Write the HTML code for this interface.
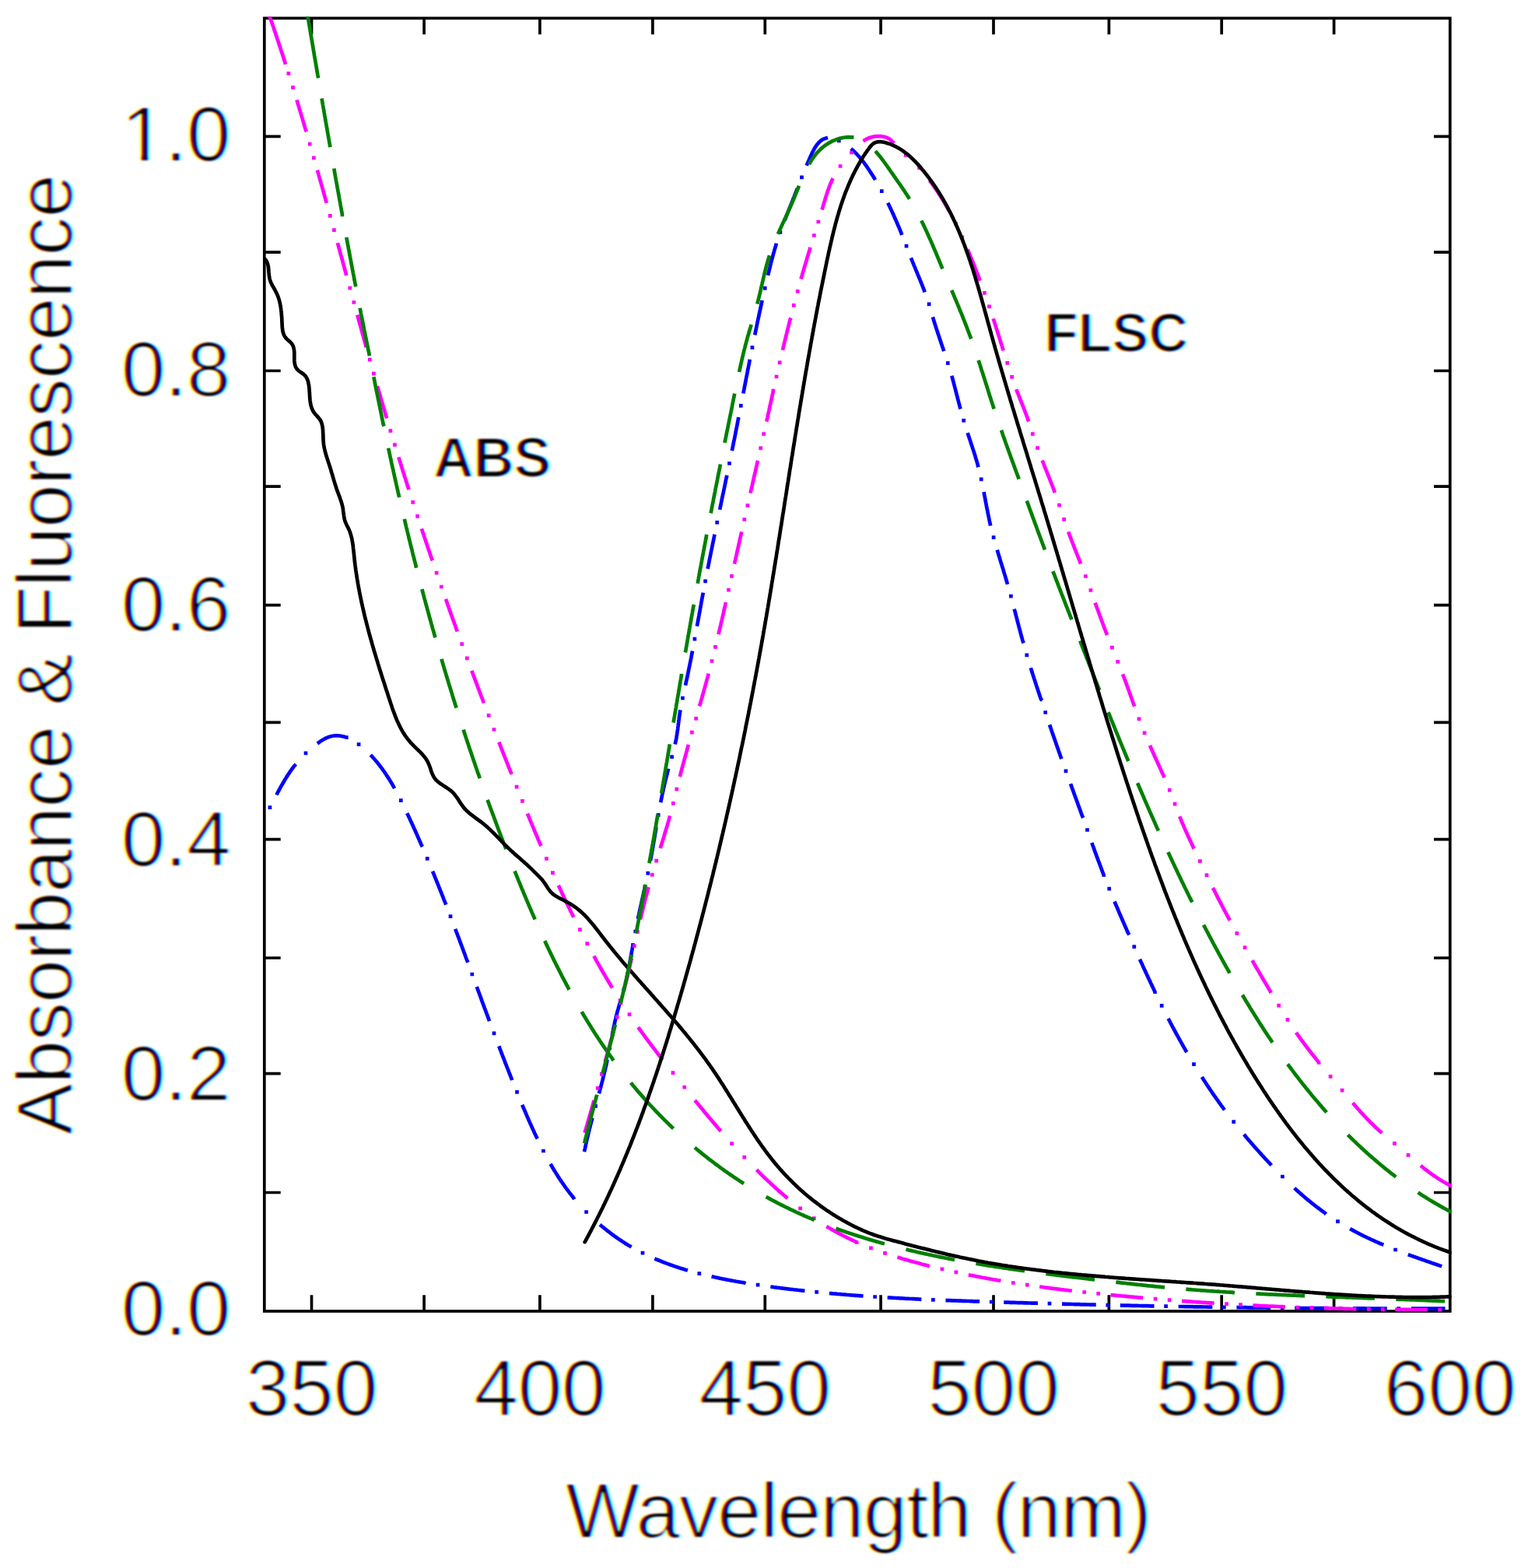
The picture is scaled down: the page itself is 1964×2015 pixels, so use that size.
<!DOCTYPE html>
<html><head><meta charset="utf-8"><title>Absorbance &amp; Fluorescence</title>
<style>
html,body{margin:0;padding:0;background:#fff;overflow:hidden;}
svg{display:block;}
text{font-family:"Liberation Sans",Arial,Helvetica,sans-serif;fill:#000;}
</style></head>
<body>
<svg width="1964" height="2015" viewBox="0 0 1964 2015">
<rect width="1964" height="2015" fill="#fff"/>
<defs><clipPath id="pa"><rect x="337.95" y="21.55" width="1527.70" height="1665.30"/></clipPath></defs>
<g fill="none" stroke="#000" stroke-width="3.7">
<rect x="339.8" y="23.4" width="1524.0" height="1661.6"/>
<path d="M400.5 1685V1664.2M400.5 23.4V44.2M545.1 1685V1664.2M545.1 23.4V44.2M693.9 1685V1664.2M693.9 23.4V44.2M838.9 1685V1664.2M838.9 23.4V44.2M983.3 1685V1664.2M983.3 23.4V44.2M1132.1 1685V1664.2M1132.1 23.4V44.2M1277 1685V1664.2M1277 23.4V44.2M1425.4 1685V1664.2M1425.4 23.4V44.2M1570.2 1685V1664.2M1570.2 23.4V44.2M1714.6 1685V1664.2M1714.6 23.4V44.2M339.8 175.4H360.7M1863.8 175.4H1843M339.8 324.1H360.7M1863.8 324.1H1843M339.8 476.5H360.7M1863.8 476.5H1843M339.8 625.2H360.7M1863.8 625.2H1843M339.8 777.6H360.7M1863.8 777.6H1843M339.8 928.3H360.7M1863.8 928.3H1843M339.8 1078.6H360.7M1863.8 1078.6H1843M339.8 1231H360.7M1863.8 1231H1843M339.8 1379.7H360.7M1863.8 1379.7H1843M339.8 1532.5H360.7M1863.8 1532.5H1843" stroke-linecap="butt"/>
</g>
<g clip-path="url(#pa)" fill="none" stroke-width="4.7">
<path d="M356.5 1019.4L357.4 1017.7L358.4 1015.9L359.3 1014.2L360.3 1012.4L361.2 1010.7L362.2 1008.9L363.2 1007.2L364.2 1005.5L365.2 1003.7L366.2 1002L367.3 1000.3L368.3 998.6L369.4 996.9L370.5 995.2L371.6 993.6L372.7 991.9L373.8 990.3L375 988.6L376.2 987L377.4 985.4L378.6 983.9L378.7 983.8M409.8 954.1L411.2 953.1L412.9 952L414.6 951L416.3 950L418.1 949L419.9 948.2L421.8 947.4L423.6 946.7L425.6 946.2L427.5 945.8L429.5 945.5L431.5 945.4L433.5 945.4L435.5 945.5L437.5 945.7L439.5 946.1L441.4 946.5L443.3 947.1L445.2 947.7L445.3 947.7M477.9 971.9L478.9 973L480.3 974.5L481.6 976L482.9 977.5L484.2 979L485.5 980.6L486.7 982.1L487.9 983.7L489.2 985.3L490.4 986.9L491.5 988.5L492.7 990.1L493.9 991.7L495 993.4L496.1 995L497.2 996.7L498.3 998.4L499.4 1000.1L500.5 1001.8L501.5 1003.5L502.6 1005.2L503.6 1006.9L504.6 1008.6L505.6 1010.4L506 1011.1M524.2 1047.1L525 1048.7L525.8 1050.5L526.7 1052.3L527.5 1054.2L528.4 1056L529.2 1057.8L530 1059.6L530.9 1061.4L531.7 1063.3L532.5 1065.1L533.3 1066.9L534.2 1068.7L535 1070.5L535.8 1072.4L536.6 1074.2L537.4 1076L538.2 1077.9L539 1079.7L539.8 1081.5L540.6 1083.4L541.4 1085.2L541.8 1086M556.9 1121.7L557.6 1123.4L558.3 1125.3L559.1 1127.1L559.8 1129L560.6 1130.8L561.3 1132.7L562.1 1134.5L562.8 1136.4L563.6 1138.2L564.3 1140.1L565.1 1142L565.8 1143.8L566.5 1145.7L567.3 1147.5L568 1149.4L568.8 1151.3L569.5 1153.1L570.2 1155L570.9 1156.8L571.7 1158.7L572.4 1160.4M586 1196L586.5 1197.4L587.3 1199.3L588 1201.2L588.7 1203.1L589.4 1204.9L590.1 1206.8L590.8 1208.7L591.5 1210.6L592.2 1212.4L592.9 1214.3L593.6 1216.2L594.3 1218L595 1219.9L595.7 1221.8L596.4 1223.7L597.1 1225.5L597.8 1227.4L598.4 1229.3L599.1 1231.2L599.8 1233L600.5 1234.7M613.6 1270.3L614.2 1272L614.9 1273.9L615.6 1275.7L616.3 1277.6L617 1279.5L617.7 1281.4L618.4 1283.2L619 1285.1L619.7 1287L620.4 1288.9L621.1 1290.7L621.8 1292.6L622.5 1294.5L623.2 1296.4L623.9 1298.2L624.6 1300.1L625.3 1302L626 1303.9L626.7 1305.7L627.4 1307.6L628.1 1309.5L628.3 1310.1M642.1 1346.6L642.7 1348.3L643.5 1350.2L644.2 1352.1L644.9 1353.9L645.6 1355.8L646.3 1357.7L647.1 1359.5L647.8 1361.4L648.5 1363.2L649.2 1365.1L649.9 1367L650.7 1368.8L651.4 1370.7L652.1 1372.6L652.9 1374.4L653.6 1376.3L654.3 1378.1L655.1 1380L655.8 1381.9L656.5 1383.7L657.3 1385.6L657.4 1385.9M672.1 1421.9L672.8 1423.5L673.6 1425.4L674.4 1427.2L675.2 1429L676 1430.9L676.7 1432.7L677.5 1434.6L678.3 1436.4L679.1 1438.2L679.9 1440.1L680.7 1441.9L681.5 1443.7L682.4 1445.5L683.2 1447.4L684 1449.2L684.8 1451L685.7 1452.8L686.5 1454.7L687.3 1456.5L688.2 1458.3L689 1460.1L689.7 1461.4M708.7 1497.8L709.7 1499.5L710.7 1501.2L711.7 1502.9L712.8 1504.6L713.8 1506.3L714.9 1508L716 1509.7L717 1511.4L718.1 1513.1L719.2 1514.8L720.3 1516.4L721.4 1518.1L722.6 1519.7L723.7 1521.4L724.9 1523L726 1524.6L727.2 1526.3L728.4 1527.9L729.6 1529.5L730.8 1531.1L732 1532.7L733.2 1534.2L734.5 1535.8L735.7 1537.4L737 1538.9L737.1 1539.1M772.8 1575.2L774.3 1576.5L775.8 1577.7L777.4 1579L778.9 1580.2L780.5 1581.5L782.1 1582.7L783.7 1583.9L785.3 1585.1L786.9 1586.3L788.5 1587.5L790.1 1588.7L791.7 1589.8L793.4 1591L795 1592.1L796.7 1593.2L798.4 1594.3L800 1595.4L801.7 1596.5L803.4 1597.6L805.1 1598.6L806.8 1599.7L808.5 1600.7L809.6 1601.3M843.5 1618.3L845.2 1619L847 1619.7L848.9 1620.5L850.7 1621.2L852.6 1622L854.5 1622.7L856.3 1623.4L858.2 1624.1L860.1 1624.8L862 1625.5L863.9 1626.1L865.7 1626.8L867.6 1627.4L869.5 1628.1L871.4 1628.7L873.3 1629.3L875.2 1629.9L877.2 1630.5L879.1 1631.1L881 1631.7L881.7 1631.9M916.9 1640.9L918.8 1641.3L920.7 1641.7L922.7 1642.1L924.6 1642.6L926.6 1643L928.5 1643.4L930.5 1643.7L932.5 1644.1L934.4 1644.5L936.4 1644.9L938.4 1645.2L940.3 1645.6L942.3 1646L944.3 1646.3L946.2 1646.7L948.2 1647L950.2 1647.4L952.2 1647.7L954.1 1648L956.1 1648.3L956.4 1648.4M992.7 1653.8L994.7 1654.1L996.7 1654.3L998.6 1654.6L1000.6 1654.8L1002.6 1655.1L1004.6 1655.3L1006.6 1655.6L1008.6 1655.8L1010.5 1656.1L1012.5 1656.3L1014.5 1656.6L1016.5 1656.8L1018.5 1657L1020.5 1657.3L1022.5 1657.5L1024.4 1657.7L1026.4 1658L1028.4 1658.2L1030.4 1658.4L1032.1 1658.6M1068.2 1662.2L1070.2 1662.4L1072.2 1662.5L1074.2 1662.7L1076.2 1662.9L1078.2 1663L1080.2 1663.2L1082.2 1663.4L1084.2 1663.5L1086.2 1663.7L1088.2 1663.9L1090.1 1664L1092.1 1664.2L1094.1 1664.3L1096.1 1664.5L1098.1 1664.6L1100.1 1664.8L1102.1 1664.9L1104.1 1665.1L1106.1 1665.2L1107.2 1665.3M1143 1667.6L1145 1667.7L1147 1667.8L1149 1667.9L1151 1668L1153 1668.1L1155 1668.2L1157 1668.3L1159 1668.4L1161 1668.5L1163 1668.7L1165 1668.8L1167 1668.9L1169 1669L1171 1669L1173 1669.1L1175 1669.2L1177 1669.3L1179 1669.4L1181 1669.5L1182 1669.6M1217.8 1671.1L1219.4 1671.1L1221.4 1671.2L1223.4 1671.3L1225.4 1671.3L1227.4 1671.4L1229.4 1671.5L1231.4 1671.6L1233.4 1671.6L1235.4 1671.7L1237.4 1671.8L1239.4 1671.8L1241.4 1671.9L1243.4 1672L1245.4 1672L1247.4 1672.1L1249.4 1672.2L1251.4 1672.3L1253.4 1672.3L1255.4 1672.4L1256.8 1672.4M1292.6 1673.6L1294.4 1673.6L1296.4 1673.7L1298.4 1673.8L1300.4 1673.8L1302.4 1673.9L1304.4 1673.9L1306.4 1674L1308.4 1674.1L1310.4 1674.1L1312.4 1674.2L1314.4 1674.2L1316.4 1674.3L1318.4 1674.4L1320.4 1674.4L1322.4 1674.5L1324.4 1674.5L1326.4 1674.6L1328.4 1674.7L1330.4 1674.7L1331.6 1674.7M1367.4 1675.7L1369.4 1675.8L1371.4 1675.8L1373.4 1675.9L1375.4 1675.9L1377.4 1676L1379.4 1676L1381.4 1676.1L1383.4 1676.1L1385.4 1676.2L1387.4 1676.2L1389.4 1676.3L1391.4 1676.3L1393.4 1676.4L1395.4 1676.4L1397.4 1676.5L1399.4 1676.5L1401.4 1676.6L1403.4 1676.6L1405.4 1676.7L1406.4 1676.7M1442.2 1677.5L1443.8 1677.6L1445.8 1677.6L1447.8 1677.6L1449.8 1677.7L1451.8 1677.7L1453.8 1677.8L1455.8 1677.8L1457.8 1677.9L1459.8 1677.9L1461.8 1677.9L1463.8 1678L1465.8 1678L1467.8 1678.1L1469.8 1678.1L1471.8 1678.1L1473.8 1678.2L1475.8 1678.2L1477.8 1678.3L1479.8 1678.3L1481.2 1678.3M1517 1679L1518.8 1679L1520.8 1679L1522.8 1679.1L1524.8 1679.1L1526.8 1679.1L1528.8 1679.2L1530.8 1679.2L1532.8 1679.2L1534.8 1679.3L1536.8 1679.3L1538.8 1679.3L1540.8 1679.4L1542.8 1679.4L1544.8 1679.4L1546.8 1679.5L1548.8 1679.5L1550.8 1679.5L1552.8 1679.6L1554.8 1679.6L1556 1679.6M1591.8 1680.1L1593.8 1680.1L1595.8 1680.2L1597.8 1680.2L1599.8 1680.2L1601.8 1680.2L1603.8 1680.3L1605.8 1680.3L1607.8 1680.3L1609.8 1680.3L1611.8 1680.3L1613.8 1680.4L1615.8 1680.4L1617.8 1680.4L1619.8 1680.4L1621.8 1680.5L1623.8 1680.5L1625.8 1680.5L1627.8 1680.5L1629.8 1680.6L1630.8 1680.6M1666.6 1680.9L1668.3 1680.9L1670.3 1680.9L1672.3 1681L1674.3 1681L1676.3 1681L1678.3 1681L1680.3 1681L1682.3 1681L1684.3 1681.1L1686.3 1681.1L1688.3 1681.1L1690.3 1681.1L1692.3 1681.1L1694.3 1681.1L1696.3 1681.1L1698.3 1681.2L1700.3 1681.2L1702.3 1681.2L1704.3 1681.2L1705.6 1681.2M1741.4 1681.4L1743.3 1681.4L1745.3 1681.4L1747.3 1681.4L1749.3 1681.4L1751.3 1681.4L1753.3 1681.4L1755.3 1681.5L1757.3 1681.5L1759.3 1681.5L1761.3 1681.5L1763.3 1681.5L1765.3 1681.5L1767.3 1681.5L1769.3 1681.5L1771.3 1681.5L1773.3 1681.5L1775.3 1681.5L1777.3 1681.5L1779.3 1681.5L1780.4 1681.5M1816.2 1681.6L1817.8 1681.6L1819.8 1681.6L1821.8 1681.6L1823.8 1681.6L1825.8 1681.6L1827.8 1681.6L1829.8 1681.6L1831.8 1681.6L1833.8 1681.6L1835.8 1681.6L1837.8 1681.6L1839.8 1681.6L1841.8 1681.6L1843.8 1681.6L1845.8 1681.6L1847.8 1681.6L1849.8 1681.6L1851.8 1681.6L1853.8 1681.6L1855.2 1681.5M346.9 1037.6h0.01M393 967.9h0.01M461.1 956.6h0.01M515.3 1028.6h0.01M549.2 1103.4h0.01M579 1177.7h0.01M606.8 1252h0.01M635 1327.9h0.01M664.5 1403.4h0.01M698.4 1479h0.01M753.6 1557.5h0.01M826 1610.2h0.01M898.8 1636.6h0.01M974.1 1651.2h0.01M1049.7 1660.4h0.01M1124.6 1666.5h0.01M1199.4 1670.3h0.01M1274.2 1673h0.01M1349 1675.2h0.01M1423.8 1677.1h0.01M1498.6 1678.7h0.01M1573.4 1679.9h0.01M1648.2 1680.7h0.01M1723 1681.3h0.01M1797.8 1681.6h0.01" stroke="#0000ff" stroke-linecap="square" stroke-linejoin="round"/>
<path d="M352.9 39.2L353.5 41L354.1 42.9L354.7 44.8L355.4 46.7L356 48.6L356.6 50.5L357.3 52.4L357.9 54.3L358.5 56.2L359.1 58.1L359.8 60L360.4 61.9L361 63.8L361.6 65.7L362.3 67.6L362.9 69.5L363.5 71.4L364.1 73.3L364.7 75.2L365.1 76.2M382.1 130.6L382.6 132.4L383.2 134.4L383.8 136.3L384.4 138.2L384.9 140.1L385.5 142L386.1 143.9L386.7 145.8L387.2 147.8L387.8 149.7L388.4 151.6L389 153.5L389.5 155.4L390.1 157.3L390.7 159.3L391.2 161.2L391.8 163.1L392.4 165L392.9 166.9L393 167.1M408.5 220.9L409 222.7L409.6 224.6L410.1 226.5L410.6 228.4L411.2 230.4L411.7 232.3L412.3 234.2L412.8 236.1L413.4 238.1L413.9 240L414.4 241.9L415 243.8L415.5 245.8L416.1 247.7L416.6 249.6L417.1 251.5L417.7 253.5L418.2 255.4L418.7 257.3L419.1 258.7M434.5 314.3L435 316.1L435.5 318L436 320L436.6 321.9L437.1 323.8L437.6 325.8L438.1 327.7L438.7 329.6L439.2 331.6L439.7 333.5L440.3 335.4L440.8 337.3L441.3 339.3L441.8 341.2L442.4 343.1L442.9 345.1L443.4 347L444 348.9L444.5 350.8L444.7 351.8M459.9 406.9L460.4 408.7L460.9 410.6L461.4 412.6L462 414.5L462.5 416.4L463 418.3L463.6 420.3L464.1 422.2L464.6 424.1L465.2 426L465.7 428L466.2 429.9L466.8 431.8L467.3 433.8L467.8 435.7L468.4 437.6L468.9 439.5L469.5 441.5L470 443.4L470.1 443.9M485.6 498.3L486.1 500.1L486.7 502.1L487.2 504L487.8 505.9L488.4 507.8L488.9 509.7L489.5 511.7L490 513.6L490.6 515.5L491.2 517.4L491.7 519.3L492.3 521.3L492.9 523.2L493.4 525.1L494 527L494.6 528.9L495.1 530.9L495.7 532.8L496.3 534.7L496.5 535.4M513 589.8L513.6 591.6L514.2 593.5L514.8 595.4L515.4 597.3L516 599.2L516.6 601.2L517.2 603.1L517.8 605L518.4 606.9L519 608.8L519.6 610.7L520.2 612.6L520.8 614.5L521.4 616.4L522 618.3L522.6 620.2L523.2 622.1L523.8 624L524.4 625.9L524.8 627M542.6 681.6L543.2 683.4L543.9 685.3L544.5 687.2L545.1 689.1L545.8 691L546.4 692.9L547 694.8L547.7 696.7L548.3 698.6L549 700.5L549.6 702.4L550.2 704.3L550.9 706.2L551.5 708.1L552.2 710L552.8 711.9L553.4 713.8L554.1 715.7L554.7 717.5L555 718.2M573.7 772L574.3 773.7L575 775.6L575.6 777.5L576.3 779.4L577 781.3L577.6 783.2L578.3 785.1L579 786.9L579.6 788.8L580.3 790.7L581 792.6L581.7 794.5L582.3 796.4L583 798.2L583.7 800.1L584.4 802L585.1 803.9L585.7 805.8L586.4 807.6L587 809.3M607.1 864.1L607.8 865.8L608.5 867.7L609.2 869.6L609.9 871.5L610.6 873.3L611.3 875.2L612 877.1L612.7 879L613.4 880.8L614.1 882.7L614.8 884.6L615.5 886.4L616.2 888.3L616.9 890.2L617.6 892.1L618.3 893.9L619.1 895.8L619.8 897.7L620.5 899.5L621.1 901.2M642.1 955.7L642.8 957.4L643.5 959.2L644.2 961.1L644.9 963L645.7 964.8L646.4 966.7L647.1 968.6L647.9 970.4L648.6 972.3L649.3 974.1L650.1 976L650.8 977.9L651.5 979.7L652.3 981.6L653 983.4L653.7 985.3L654.5 987.2L655.2 989L655.9 990.9L656.7 992.7L656.8 992.9M678.8 1047.7L679.5 1049.3L680.3 1051.2L681 1053L681.8 1054.9L682.5 1056.7L683.3 1058.6L684.1 1060.4L684.9 1062.3L685.6 1064.1L686.4 1065.9L687.2 1067.8L687.9 1069.6L688.7 1071.5L689.5 1073.3L690.3 1075.2L691 1077L691.8 1078.8L692.6 1080.7L693.4 1082.5L694.2 1084.4L694.5 1085M718.8 1139.9L719.5 1141.5L720.4 1143.3L721.2 1145.1L722 1146.9L722.9 1148.8L723.7 1150.6L724.6 1152.4L725.4 1154.2L726.3 1156L727.2 1157.8L728 1159.6L728.9 1161.4L729.8 1163.2L730.6 1165L731.5 1166.8L732.4 1168.6L733.2 1170.4L734.1 1172.2L735 1174L735.9 1175.8L736.3 1176.6M764.5 1230.6L765.3 1232.1L766.2 1233.8L767.2 1235.6L768.2 1237.3L769.2 1239.1L770.2 1240.8L771.1 1242.5L772.1 1244.3L773.1 1246L774.1 1247.7L775.1 1249.5L776.1 1251.2L777.1 1252.9L778.2 1254.7L779.2 1256.4L780.2 1258.1L781.2 1259.8L782.2 1261.5L783.3 1263.3L784.3 1265L785.3 1266.7L785.9 1267.6M821.6 1322L822.7 1323.5L823.9 1325.1L825.1 1326.7L826.2 1328.3L827.4 1329.9L828.6 1331.5L829.8 1333.2L831 1334.8L832.2 1336.4L833.4 1338L834.6 1339.6L835.8 1341.2L837 1342.8L838.2 1344.4L839.4 1346L840.6 1347.5L841.8 1349.1L843 1350.7L844.3 1352.3L845.5 1353.9L846.7 1355.5L847.9 1357L849.1 1358.6L850.2 1360M894.7 1415.8L895.9 1417.3L897.2 1418.8L898.5 1420.4L899.7 1421.9L901 1423.4L902.3 1425L903.5 1426.5L904.8 1428.1L906.1 1429.6L907.4 1431.1L908.7 1432.7L909.9 1434.2L911.2 1435.7L912.5 1437.3L913.8 1438.8L915.1 1440.3L916.4 1441.9L917.7 1443.4L919 1444.9L920.3 1446.4L921.6 1447.9L922.9 1449.5L924.2 1451L925 1451.9M974.1 1504.9L975.1 1506L976.6 1507.4L978 1508.8L979.4 1510.2L980.9 1511.6L982.3 1513L983.7 1514.4L985.2 1515.7L986.6 1517.1L988.1 1518.5L989.6 1519.8L991 1521.2L992.5 1522.6L994 1523.9L995.4 1525.3L996.9 1526.6L998.4 1527.9L999.9 1529.3L1001.4 1530.6L1002.9 1531.9L1004.4 1533.2L1005.9 1534.5L1007.4 1535.8L1009 1537.1L1010.5 1538.4L1010.6 1538.5M1064.3 1577.2L1065.7 1578L1067.4 1579L1069.2 1580L1070.9 1581L1072.6 1582L1074.4 1582.9L1076.1 1583.9L1077.9 1584.9L1079.7 1585.8L1081.4 1586.7L1083.2 1587.6L1085 1588.5L1086.8 1589.4L1088.6 1590.3L1090.4 1591.2L1092.2 1592.1L1094 1592.9L1095.8 1593.8L1097.6 1594.6L1099.4 1595.4L1101.3 1596.2L1101.3 1596.3M1155.7 1616.2L1157.6 1616.8L1159.5 1617.4L1161.4 1617.9L1163.4 1618.5L1165.3 1619.1L1167.2 1619.6L1169.1 1620.2L1171 1620.7L1173 1621.2L1174.9 1621.8L1176.8 1622.3L1178.8 1622.8L1180.7 1623.3L1182.6 1623.8L1184.6 1624.4L1186.5 1624.9L1188.4 1625.4L1190.4 1625.9L1192.3 1626.3L1192.7 1626.5M1247.1 1638.7L1248.9 1639L1250.9 1639.4L1252.8 1639.8L1254.8 1640.2L1256.7 1640.6L1258.7 1640.9L1260.7 1641.3L1262.6 1641.7L1264.6 1642L1266.6 1642.4L1268.5 1642.8L1270.5 1643.1L1272.5 1643.5L1274.4 1643.8L1276.4 1644.2L1278.4 1644.5L1280.4 1644.9L1282.3 1645.2L1284.1 1645.5M1338.5 1653.8L1340.2 1654L1342.1 1654.3L1344.1 1654.6L1346.1 1654.8L1348.1 1655.1L1350.1 1655.3L1352.1 1655.6L1354 1655.8L1356 1656.1L1358 1656.3L1360 1656.6L1362 1656.8L1364 1657.1L1365.9 1657.3L1367.9 1657.6L1369.9 1657.8L1371.9 1658L1373.9 1658.3L1375.5 1658.5M1429.9 1664.3L1431.6 1664.4L1433.6 1664.6L1435.5 1664.8L1437.5 1665L1439.5 1665.2L1441.5 1665.4L1443.5 1665.5L1445.5 1665.7L1447.5 1665.9L1449.5 1666.1L1451.5 1666.3L1453.5 1666.5L1455.5 1666.6L1457.5 1666.8L1459.4 1667L1461.4 1667.2L1463.4 1667.4L1465.4 1667.5L1466.9 1667.7M1521.3 1672L1523.2 1672.1L1525.2 1672.3L1527.2 1672.4L1529.2 1672.6L1531.2 1672.7L1533.2 1672.9L1535.2 1673L1537.2 1673.1L1539.2 1673.3L1541.2 1673.4L1543.2 1673.5L1545.2 1673.7L1547.2 1673.8L1549.2 1673.9L1551.2 1674.1L1553.2 1674.2L1555.2 1674.3L1557.2 1674.4L1558.3 1674.5M1612.7 1677.6L1614.6 1677.7L1616.6 1677.8L1618.6 1677.9L1620.6 1678L1622.6 1678.1L1624.6 1678.2L1626.6 1678.3L1628.6 1678.4L1630.5 1678.5L1632.5 1678.5L1634.5 1678.6L1636.5 1678.7L1638.5 1678.8L1640.5 1678.9L1642.5 1679L1644.5 1679.1L1646.5 1679.1L1648.5 1679.2L1649.7 1679.3M1704.1 1681.2L1706 1681.2L1708 1681.3L1710 1681.3L1712 1681.4L1714 1681.4L1716 1681.5L1718 1681.5L1720 1681.6L1722 1681.6L1724 1681.7L1726 1681.7L1728 1681.8L1730 1681.8L1732 1681.9L1734 1681.9L1736 1682L1738 1682L1740 1682L1741.1 1682.1M1795.5 1682.8L1797.5 1682.9L1799.5 1682.9L1801.5 1682.9L1803.5 1682.9L1805.5 1682.9L1807.5 1682.9L1809.5 1682.9L1811.5 1682.9L1813.5 1683L1815.5 1683L1817.5 1683L1819.5 1683L1821.5 1683L1823.5 1683L1825.5 1683L1827.5 1683L1829.5 1683L1831.5 1683L1832.5 1683M340.8 4.1L341.4 6L342.1 7.9L342.8 9.8L343.4 11.7L344.1 13.5L344.7 15.4L345.4 17.3L346 19.2L346.7 21.1L347.3 23L348 24.9L348.6 26.8L349.3 28.7L349.9 30.6L350.6 32.5L351.2 34.3L351.9 36.2L352.5 38.1L353.1 40L353.8 41.9L354.4 43.8L355.1 45.7L355.7 47.6L356.3 49.5L356.9 51.4L357.6 53.3L358.2 55.2L358.8 57.1L359.5 59L360.1 60.9L360.7 62.8L361.3 64.7L361.9 66.6L362.6 68.5L363.2 70.4L363.8 72.3L364.4 74.2L365 76.1L365.6 78L366.3 79.9L366.4 80.4M346.7 21h0.01M370.9 94.4h0.01M376.5 112.4h0.01M398.2 185.1h0.01M403.4 202.8h0.01M424.3 277.3h0.01M429.4 295.7h0.01M449.8 370.2h0.01M454.8 388.5h0.01M475.3 462.1h0.01M480.4 480.1h0.01M501.9 553.6h0.01M507.4 571.6h0.01M530.7 645.3h0.01M536.6 663.4h0.01M561.1 736.2h0.01M567.3 754h0.01M593.7 827.7h0.01M600.3 845.8h0.01M628.1 919.4h0.01M635 937.5h0.01M664.1 1011.2h0.01M671.4 1029.4h0.01M702.4 1103.4h0.01M710.4 1121.6h0.01M745.4 1194.7h0.01M754.7 1212.6h0.01M797.2 1285.7h0.01M809 1303.7h0.01M865 1378.7h0.01M879.7 1397.2h0.01M940.6 1469.6h0.01M956.8 1487.2h0.01M1028.6 1552.9h0.01M1046.3 1565.7h0.01M1119.5 1603.8h0.01M1137.5 1610.4h0.01M1210.9 1630.9h0.01M1228.9 1634.9h0.01M1302.3 1648.5h0.01M1320.3 1651.2h0.01M1393.7 1660.5h0.01M1411.7 1662.4h0.01M1485.1 1669.2h0.01M1503.1 1670.6h0.01M1576.5 1675.6h0.01M1594.5 1676.7h0.01M1667.9 1680h0.01M1685.9 1680.6h0.01M1759.3 1682.4h0.01M1777.3 1682.7h0.01M1850.7 1683h0.01" stroke="#ff00ff" stroke-linecap="square" stroke-linejoin="round"/>
<path d="M392 0L392.3 1.5L392.6 3.5L393 5.4L393.2 6.7M398.6 38.7L398.9 40.4L399.2 42.4L399.5 44.4L399.9 46.4L400.2 48.3L400.5 50.3L400.9 52.3L401.2 54.2L401.5 56.2L401.9 58.2L402.2 60.2L402.5 62.1L402.9 64.1L403.2 66.1L403.5 68L403.9 70L404.2 72L404.5 74L404.9 75.9L405.2 77.9L405.6 79.9L405.9 81.8L406.2 83.8L406.6 85.8L406.9 87.8L407.2 89.7L407.6 91.7L407.9 93.7L408.2 95.6L408.4 96.7M413.9 128.7L414.3 130.6L414.6 132.6L414.9 134.6L415.3 136.6L415.6 138.5L416 140.5L416.3 142.5L416.6 144.4L417 146.4L417.3 148.4L417.7 150.3L418 152.3L418.3 154.3L418.7 156.3L419 158.2L419.4 160.2L419.7 162.2L420.1 164.1L420.4 166.1L420.7 168.1L421.1 170L421.4 172L421.8 174L422.1 176L422.5 177.9L422.8 179.9L423.2 181.9L423.5 183.8L423.8 185.8L424 186.8M429.7 218.8L429.9 220.3L430.3 222.2L430.6 224.2L431 226.2L431.3 228.2L431.7 230.1L432 232.1L432.4 234.1L432.7 236L433.1 238L433.4 240L433.8 241.9L434.2 243.9L434.5 245.9L434.9 247.8L435.2 249.8L435.6 251.8L435.9 253.7L436.3 255.7L436.6 257.7L437 259.6L437.4 261.6L437.7 263.6L438.1 265.6L438.4 267.5L438.8 269.5L439.1 271.5L439.5 273.4L439.9 275.4L439.9 275.9M445.7 307.4L446.1 309.3L446.5 311.3L446.8 313.3L447.2 315.2L447.6 317.2L447.9 319.2L448.3 321.1L448.7 323.1L449 325.1L449.4 327L449.8 329L450.1 330.9L450.5 332.9L450.9 334.9L451.2 336.8L451.6 338.8L452 340.8L452.4 342.7L452.7 344.7L453.1 346.7L453.5 348.6L453.8 350.6L454.2 352.6L454.6 354.5L455 356.5L455.3 358.5L455.7 360.4L456.1 362.4L456.5 364.4L456.8 366M463.1 398.2L463.4 399.7L463.7 401.6L464.1 403.6L464.5 405.6L464.9 407.5L465.3 409.5L465.7 411.5L466.1 413.4L466.5 415.4L466.9 417.3L467.3 419.3L467.7 421.3L468 423.2L468.4 425.2L468.8 427.1L469.2 429.1L469.6 431.1L470 433L470.4 435L470.8 437L471.2 438.9L471.6 440.9L472 442.8L472.4 444.8L472.8 446.8L473.2 448.7L473.6 450.7L474 452.6L474.4 454.6L474.5 455.1M480.8 486.6L481.2 488.4L481.6 490.4L481.9 492.3L482.3 494.3L482.7 496.3L483.1 498.2L483.5 500.2L483.9 502.1L484.3 504.1L484.7 506.1L485.1 508L485.5 510L485.9 511.9L486.3 513.9L486.7 515.9L487.1 517.8L487.5 519.8L487.9 521.7L488.3 523.7L488.7 525.7L489.1 527.6L489.5 529.6L489.9 531.5L490.3 533.5L490.7 535.5L491.1 537.4L491.5 539.4L491.9 541.3L492.3 543.3L492.7 545.3L492.8 545.6M499.6 578.1L500.1 580L500.5 581.9L500.9 583.9L501.3 585.9L501.7 587.8L502.2 589.8L502.6 591.7L503 593.7L503.4 595.6L503.9 597.6L504.3 599.5L504.7 601.5L505.2 603.4L505.6 605.4L506 607.3L506.5 609.3L506.9 611.2L507.3 613.2L507.8 615.2L508.2 617.1L508.6 619.1L509.1 621L509.5 623L510 624.9L510.4 626.9L510.8 628.8L511.3 630.8L511.7 632.7L512.2 634.7L512.6 636.6L512.7 636.9M520.3 669.3L520.7 671.2L521.2 673.1L521.7 675.1L522.1 677L522.6 679L523.1 680.9L523.5 682.8L524 684.8L524.5 686.7L525 688.7L525.4 690.6L525.9 692.6L526.4 694.5L526.9 696.4L527.3 698.4L527.8 700.3L528.3 702.3L528.8 704.2L529.3 706.1L529.8 708.1L530.2 710L530.7 712L531.2 713.9L531.7 715.8L532.2 717.8L532.7 719.7L533.2 721.7L533.7 723.6L534.2 725.5L534.6 727.4M543 759.5L543.5 761.3L544 763.3L544.5 765.2L545 767.1L545.5 769.1L546.1 771L546.6 772.9L547.1 774.9L547.6 776.8L548.2 778.7L548.7 780.7L549.2 782.6L549.7 784.5L550.3 786.4L550.8 788.4L551.3 790.3L551.8 792.2L552.4 794.2L552.9 796.1L553.4 798L554 799.9L554.5 801.9L555.1 803.8L555.6 805.7L556.1 807.6L556.7 809.6L557.2 811.5L557.8 813.4L558.3 815.3L558.8 817.2M568.1 849.1L568.6 850.9L569.2 852.8L569.7 854.7L570.3 856.6L570.9 858.6L571.4 860.5L572 862.4L572.6 864.3L573.2 866.2L573.7 868.1L574.3 870L574.9 872L575.5 873.9L576.1 875.8L576.6 877.7L577.2 879.6L577.8 881.5L578.4 883.4L579 885.4L579.6 887.3L580.2 889.2L580.8 891.1L581.3 893L581.9 894.9L582.5 896.8L583.1 898.7L583.7 900.6L584.3 902.5L584.9 904.5L585.5 906.4L585.9 907.6M596.3 939.8L596.8 941.6L597.5 943.5L598.1 945.4L598.7 947.3L599.4 949.2L600 951.1L600.6 953L601.2 954.9L601.9 956.8L602.5 958.7L603.1 960.6L603.8 962.5L604.4 964.4L605.1 966.3L605.7 968.1L606.3 970L607 971.9L607.6 973.8L608.3 975.7L608.9 977.6L609.6 979.5L610.2 981.4L610.9 983.3L611.5 985.2L612.2 987.1L612.8 989L613.5 990.8L614.1 992.7L614.8 994.6L615.5 996.5L616 998M627.4 1030.1L628.1 1031.8L628.7 1033.7L629.4 1035.6L630.1 1037.5L630.8 1039.3L631.5 1041.2L632.2 1043.1L632.9 1045L633.6 1046.9L634.3 1048.7L635 1050.6L635.7 1052.5L636.4 1054.4L637.1 1056.2L637.8 1058.1L638.5 1060L639.2 1061.8L639.9 1063.7L640.6 1065.6L641.3 1067.5L642 1069.3L642.7 1071.2L643.4 1073.1L644.1 1074.9L644.9 1076.8L645.6 1078.7L646.3 1080.5L647 1082.4L647.7 1084.3L648.5 1086.1L649.2 1088L649.6 1089.1M662.5 1121.6L663.2 1123.3L663.9 1125.2L664.7 1127L665.4 1128.9L666.2 1130.7L666.9 1132.6L667.7 1134.4L668.5 1136.3L669.2 1138.1L670 1140L670.7 1141.8L671.5 1143.7L672.3 1145.5L673 1147.4L673.8 1149.2L674.6 1151.1L675.4 1152.9L676.1 1154.8L676.9 1156.6L677.7 1158.4L678.5 1160.3L679.3 1162.1L680 1164L680.8 1165.8L681.6 1167.6L682.4 1169.5L683.2 1171.3L684 1173.1L684.8 1175L685.6 1176.8L686.4 1178.6L686.7 1179.4M701.2 1211.2L701.9 1212.8L702.7 1214.6L703.6 1216.4L704.5 1218.2L705.3 1220L706.2 1221.8L707 1223.6L707.9 1225.4L708.8 1227.2L709.7 1229L710.5 1230.8L711.4 1232.6L712.3 1234.4L713.2 1236.2L714.1 1238L715 1239.8L715.9 1241.6L716.8 1243.4L717.7 1245.2L718.6 1246.9L719.5 1248.7L720.4 1250.5L721.3 1252.3L722.2 1254.1L723.1 1255.8L724.1 1257.6L725 1259.4L725.9 1261.1L726.9 1262.9L727.8 1264.7L728.7 1266.4L729.7 1268.2L730.5 1269.8M748.8 1302.1L749.6 1303.5L750.6 1305.2L751.7 1306.9L752.7 1308.6L753.7 1310.3L754.8 1312L755.8 1313.7L756.9 1315.4L757.9 1317.1L759 1318.8L760 1320.5L761.1 1322.2L762.2 1323.9L763.3 1325.6L764.3 1327.3L765.4 1329L766.5 1330.6L767.6 1332.3L768.7 1334L769.8 1335.6L770.9 1337.3L772 1339L773.1 1340.6L774.3 1342.3L775.4 1343.9L776.5 1345.6L777.6 1347.2L778.8 1348.9L779.9 1350.5L781.1 1352.2L782.2 1353.8L783.4 1355.4L784.5 1357.1L785.7 1358.7L786.9 1360.3L787.3 1360.9M812.3 1393.2L813.5 1394.7L814.8 1396.2L816.1 1397.8L817.3 1399.3L818.6 1400.8L819.9 1402.4L821.2 1403.9L822.6 1405.4L823.9 1406.9L825.2 1408.4L826.5 1409.9L827.8 1411.4L829.2 1412.9L830.5 1414.4L831.8 1415.9L833.2 1417.3L834.5 1418.8L835.9 1420.3L837.3 1421.7L838.6 1423.2L840 1424.7L841.4 1426.1L842.7 1427.6L844.1 1429L845.5 1430.4L846.9 1431.9L848.3 1433.3L849.7 1434.7L851.1 1436.2L852.5 1437.6L853.9 1439L855.4 1440.4L856.8 1441.8L858.2 1443.2L859.6 1444.6L861.1 1446L862.5 1447.4L863.9 1448.7M894.8 1476.2L896.1 1477.3L897.7 1478.6L899.2 1479.8L900.8 1481.1L902.3 1482.4L903.9 1483.6L905.4 1484.9L907 1486.1L908.6 1487.3L910.2 1488.6L911.7 1489.8L913.3 1491L914.9 1492.2L916.5 1493.4L918.1 1494.6L919.7 1495.8L921.3 1497L922.9 1498.2L924.5 1499.4L926.1 1500.6L927.8 1501.8L929.4 1502.9L931 1504.1L932.6 1505.3L934.3 1506.4L935.9 1507.6L937.6 1508.7L939.2 1509.8L940.9 1511L942.5 1512.1L944.2 1513.2L945.8 1514.3L947.5 1515.4L949.2 1516.5L950.8 1517.6L952.5 1518.7L954.1 1519.7M986.7 1539.1L988.2 1539.9L989.9 1540.9L991.7 1541.8L993.4 1542.8L995.2 1543.7L997 1544.6L998.8 1545.6L1000.5 1546.5L1002.3 1547.4L1004.1 1548.3L1005.9 1549.2L1007.7 1550.1L1009.5 1551L1011.3 1551.9L1013.1 1552.7L1014.9 1553.6L1016.7 1554.5L1018.5 1555.3L1020.3 1556.2L1022.1 1557L1023.9 1557.9L1025.7 1558.7L1027.5 1559.5L1029.4 1560.4L1031.2 1561.2L1033 1562L1034.9 1562.8L1036.7 1563.6L1038.5 1564.4L1040.4 1565.2L1042.2 1565.9L1044 1566.7L1044.7 1567M1076.7 1579.4L1078.5 1580.1L1080.4 1580.8L1082.3 1581.4L1084.2 1582.1L1086.1 1582.7L1088 1583.4L1089.9 1584L1091.8 1584.7L1093.7 1585.3L1095.6 1585.9L1097.5 1586.6L1099.4 1587.2L1101.3 1587.8L1103.2 1588.4L1105.1 1589L1107 1589.6L1108.9 1590.2L1110.8 1590.8L1112.7 1591.4L1114.6 1592L1116.5 1592.6L1118.5 1593.1L1120.4 1593.7L1122.3 1594.3L1124.2 1594.8L1126.1 1595.4L1128.1 1595.9L1130 1596.5L1131.9 1597L1133.8 1597.6L1134.7 1597.8M1166.7 1606.1L1168.2 1606.5L1170.1 1606.9L1172.1 1607.4L1174 1607.8L1176 1608.3L1177.9 1608.7L1179.9 1609.2L1181.8 1609.6L1183.8 1610.1L1185.7 1610.5L1187.7 1610.9L1189.6 1611.4L1191.6 1611.8L1193.6 1612.2L1195.5 1612.6L1197.5 1613L1199.4 1613.5L1201.4 1613.9L1203.3 1614.3L1205.3 1614.7L1207.3 1615.1L1209.2 1615.5L1211.2 1615.9L1213.1 1616.3L1215.1 1616.6L1217.1 1617L1219 1617.4L1221 1617.8L1223 1618.2L1224.7 1618.5M1256.7 1624.2L1258.4 1624.5L1260.4 1624.8L1262.4 1625.1L1264.3 1625.4L1266.3 1625.7L1268.3 1626.1L1270.2 1626.4L1272.2 1626.7L1274.2 1627L1276.2 1627.3L1278.2 1627.6L1280.1 1627.9L1282.1 1628.2L1284.1 1628.5L1286.1 1628.8L1288 1629.1L1290 1629.4L1292 1629.7L1294 1630L1296 1630.3L1297.9 1630.6L1299.9 1630.9L1301.9 1631.1L1303.9 1631.4L1305.9 1631.7L1307.8 1632L1309.8 1632.3L1311.8 1632.5L1313.8 1632.8L1314.7 1632.9M1346.7 1637.2L1348.5 1637.4L1350.5 1637.6L1352.4 1637.9L1354.4 1638.1L1356.4 1638.4L1358.4 1638.6L1360.4 1638.9L1362.4 1639.1L1364.4 1639.4L1366.3 1639.6L1368.3 1639.9L1370.3 1640.1L1372.3 1640.3L1374.3 1640.6L1376.3 1640.8L1378.2 1641.1L1380.2 1641.3L1382.2 1641.5L1384.2 1641.8L1386.2 1642L1388.2 1642.2L1390.2 1642.5L1392.2 1642.7L1394.1 1643L1396.1 1643.2L1398.1 1643.4L1400.1 1643.7L1402.1 1643.9L1404.1 1644.1L1404.7 1644.2M1436.7 1647.9L1438.3 1648.1L1440.3 1648.4L1442.3 1648.6L1444.3 1648.8L1446.3 1649L1448.3 1649.3L1450.3 1649.5L1452.2 1649.7L1454.2 1649.9L1456.2 1650.1L1458.2 1650.4L1460.2 1650.6L1462.2 1650.8L1464.2 1651L1466.2 1651.2L1468.2 1651.4L1470.1 1651.7L1472.1 1651.9L1474.1 1652.1L1476.1 1652.3L1478.1 1652.5L1480.1 1652.7L1482.1 1652.9L1484.1 1653.1L1486.1 1653.3L1488 1653.5L1490 1653.7L1492 1653.9L1494 1654.1L1494.7 1654.1M1526.7 1656.9L1528.4 1657.1L1530.4 1657.2L1532.4 1657.4L1534.4 1657.5L1536.4 1657.7L1538.4 1657.8L1540.4 1658L1542.3 1658.1L1544.3 1658.3L1546.3 1658.4L1548.3 1658.5L1550.3 1658.7L1552.3 1658.8L1554.3 1659L1556.3 1659.1L1558.3 1659.2L1560.3 1659.4L1562.3 1659.5L1564.3 1659.6L1566.3 1659.7L1568.3 1659.9L1570.3 1660L1572.3 1660.1L1574.3 1660.2L1576.3 1660.4L1578.3 1660.5L1580.3 1660.6L1582.3 1660.7L1584.3 1660.8L1584.7 1660.9M1616.7 1662.6L1618.7 1662.7L1620.7 1662.8L1622.7 1662.9L1624.7 1663L1626.7 1663.1L1628.7 1663.2L1630.7 1663.3L1632.7 1663.3L1634.7 1663.4L1636.7 1663.5L1638.7 1663.6L1640.7 1663.7L1642.7 1663.8L1644.7 1663.9L1646.7 1664L1648.7 1664.1L1650.7 1664.2L1652.7 1664.2L1654.7 1664.3L1656.7 1664.4L1658.7 1664.5L1660.7 1664.6L1662.7 1664.7L1664.7 1664.7L1666.7 1664.8L1668.7 1664.9L1670.7 1665L1672.7 1665.1L1674.7 1665.2L1674.7 1665.2M1706.7 1666.4L1708.6 1666.5L1710.6 1666.5L1712.6 1666.6L1714.6 1666.7L1716.6 1666.8L1718.6 1666.8L1720.6 1666.9L1722.6 1667L1724.6 1667L1726.6 1667.1L1728.6 1667.2L1730.6 1667.3L1732.6 1667.3L1734.6 1667.4L1736.6 1667.5L1738.6 1667.6L1740.6 1667.6L1742.6 1667.7L1744.6 1667.8L1746.6 1667.8L1748.6 1667.9L1750.6 1668L1752.6 1668.1L1754.6 1668.1L1756.6 1668.2L1758.6 1668.3L1760.6 1668.3L1762.6 1668.4L1764.6 1668.5L1764.7 1668.5M1796.7 1669.7L1798.6 1669.8L1800.6 1669.8L1802.6 1669.9L1804.6 1670L1806.6 1670.1L1808.6 1670.1L1810.6 1670.2L1812.6 1670.3L1814.6 1670.4L1816.6 1670.5L1818.6 1670.5L1820.6 1670.6L1822.6 1670.7L1824.5 1670.8L1826.5 1670.9L1828.5 1671L1830.5 1671L1832.5 1671.1L1834.5 1671.2L1836.5 1671.3L1838.5 1671.4L1840.5 1671.5L1842.5 1671.6L1844.5 1671.6L1846.5 1671.7L1848.5 1671.8L1850.5 1671.9L1852.5 1672L1854.5 1672.1L1854.7 1672.1M392 0L392.4 2L392.7 4L393 5.9L393.4 7.9L393.7 9.9L394 11.8L394.4 13.8L394.7 15.8L395 17.8L395.4 19.7L395.7 21.7L396 23.7L396.4 25.7L396.7 27.6L397 29.6L397.4 31.6L397.7 33.5L398 35.5L398.4 37.5L398.7 39.5L399 41.4L399.4 43.4L399.7 45.4L400 47.3L400.4 49.3L400.7 51.3L401 53.3L401.4 55.2L401.7 57.2L402 59.2L402.4 61.1L402.7 63.1L403 65.1L403.4 67.1L403.7 69L404 71L404.4 73L404.7 74.9L405.1 76.9L405.4 78.9L405.7 80.9L406.1 82.8L406.4 84.8L406.7 86.8L407.1 88.7L407.4 90.7L407.7 92.7L408.1 94.7L408.4 96.6L408.7 98.1" stroke="#008000" stroke-linecap="square" stroke-linejoin="round"/>
<path d="M340.6 332.9L341.9 334.5L342.9 336.2L343.7 338.1L344.3 340L344.7 341.9L345 343.9L345.2 345.9L345.4 347.9L345.5 349.9L345.7 351.9L345.9 353.9L346.1 355.8L346.5 357.8L347 359.7L347.6 361.6L348.4 363.5L349.3 365.3L350.2 367.1L351.2 368.8L352.2 370.5L353.2 372.3L354.1 374L355 375.8L355.9 377.6L356.7 379.4L357.4 381.3L358.1 383.2L358.7 385.1L359.2 387L359.7 389L360.1 390.9L360.5 392.9L360.8 394.9L361.1 396.8L361.3 398.8L361.6 400.8L361.7 402.8L361.9 404.8L362.1 406.8L362.2 408.8L362.3 410.8L362.4 412.8L362.5 414.8L362.6 416.8L362.7 418.8L362.8 420.8L363.1 422.8L363.3 424.7L363.7 426.7L364.3 428.6L365 430.5L365.9 432.3L367.1 433.9L368.4 435.4L369.9 436.8L371.4 438.1L372.9 439.4L374.3 440.8L375.5 442.4L376.5 444.2L377.2 446L377.7 448L378 449.9L378.2 451.9L378.3 453.9L378.3 455.9L378.3 457.9L378.3 459.9L378.3 461.9L378.4 463.9L378.6 465.9L378.9 467.9L379.4 469.8L380.1 471.7L381.1 473.4L382.4 475L383.8 476.4L385.4 477.6L387.1 478.7L388.7 479.8L390.3 481L391.8 482.4L393.1 483.9L394.1 485.6L395 487.4L395.7 489.3L396.2 491.2L396.6 493.2L397 495.1L397.2 497.1L397.4 499.1L397.6 501.1L397.7 503.1L397.9 505.1L398 507.1L398.1 509.1L398.2 511.1L398.4 513.1L398.6 515.1L398.9 517.1L399.2 519L399.6 521L400.2 522.9L400.8 524.8L401.6 526.6L402.5 528.4L403.6 530.1L404.8 531.7L406.1 533.2L407.5 534.6L408.8 536.1L410.1 537.7L411.3 539.3L412.3 541L413.1 542.8L413.7 544.7L414.2 546.7L414.6 548.7L414.8 550.6L415 552.6L415.1 554.6L415.2 556.6L415.3 558.6L415.4 560.6L415.4 562.6L415.5 564.6L415.6 566.6L415.8 568.6L416 570.6L416.3 572.6L416.6 574.5L417 576.5L417.5 578.5L417.9 580.4L418.5 582.3L419 584.2L419.6 586.2L420.2 588.1L420.8 590L421.4 591.9L422 593.8L422.7 595.7L423.3 597.6L423.9 599.5L424.5 601.4L425.1 603.3L425.7 605.2L426.2 607.1L426.8 609.1L427.4 611L427.9 612.9L428.5 614.8L429 616.7L429.6 618.6L430.2 620.6L430.8 622.5L431.4 624.4L432 626.3L432.6 628.2L433.3 630.1L434 632L434.7 633.8L435.4 635.7L436.1 637.6L436.8 639.4L437.4 641.3L438.1 643.2L438.7 645.1L439.3 647L439.8 649L440.3 650.9L440.7 652.9L441 654.9L441.2 656.8L441.5 658.8L441.8 660.8L442 662.8L442.3 664.8L442.7 666.7L443.2 668.7L443.8 670.6L444.6 672.4L445.4 674.2L446.3 676L447.2 677.8L448.1 679.6L448.9 681.4L449.7 683.3L450.3 685.2L450.9 687.1L451.4 689L451.9 690.9L452.4 692.9L452.7 694.9L453.1 696.8L453.4 698.8L453.7 700.8L453.9 702.8L454.1 704.8L454.4 706.8L454.6 708.7L454.8 710.7L455 712.7L455.2 714.7L455.4 716.7L455.6 718.7L455.8 720.7L456 722.7L456.3 724.6L456.5 726.6L456.8 728.6L457.1 730.6L457.3 732.6L457.6 734.6L457.9 736.5L458.2 738.5L458.5 740.5L458.8 742.5L459.1 744.4L459.5 746.4L459.8 748.4L460.1 750.4L460.5 752.3L460.8 754.3L461.2 756.3L461.6 758.2L461.9 760.2L462.3 762.2L462.7 764.1L463.1 766.1L463.5 768L463.9 770L464.3 772L464.7 773.9L465.2 775.9L465.6 777.8L466 779.8L466.5 781.7L466.9 783.7L467.4 785.6L467.8 787.6L468.3 789.5L468.7 791.5L469.2 793.4L469.7 795.3L470.2 797.3L470.7 799.2L471.2 801.2L471.7 803.1L472.2 805L472.7 807L473.2 808.9L473.7 810.8L474.2 812.8L474.7 814.7L475.3 816.6L475.8 818.6L476.3 820.5L476.9 822.4L477.4 824.3L478 826.3L478.5 828.2L479.1 830.1L479.6 832L480.2 833.9L480.7 835.9L481.3 837.8L481.9 839.7L482.5 841.6L483 843.5L483.6 845.4L484.2 847.4L484.8 849.3L485.4 851.2L485.9 853.1L486.5 855L487.1 856.9L487.7 858.8L488.3 860.7L488.9 862.6L489.5 864.5L490.1 866.5L490.7 868.4L491.3 870.3L491.9 872.2L492.5 874.1L493.2 876L493.8 877.9L494.4 879.8L495 881.7L495.6 883.6L496.2 885.5L496.8 887.4L497.5 889.3L498.1 891.2L498.7 893.1L499.3 895L499.9 896.9L500.6 898.8L501.2 900.7L501.8 902.6L502.4 904.5L503.1 906.4L503.7 908.3L504.3 910.2L505 912.1L505.7 914L506.4 915.9L507.1 917.7L507.8 919.6L508.5 921.5L509.3 923.3L510 925.1L510.8 927L511.7 928.8L512.5 930.6L513.4 932.4L514.3 934.2L515.2 936L516.2 937.7L517.1 939.5L518.2 941.2L519.2 942.9L520.3 944.6L521.4 946.2L522.6 947.8L523.8 949.4L525.1 951L526.3 952.5L527.6 954.1L529 955.5L530.4 957L531.8 958.4L533.2 959.8L534.6 961.2L536.1 962.6L537.5 964L538.9 965.4L540.4 966.8L541.7 968.2L543.1 969.7L544.4 971.2L545.7 972.8L546.9 974.4L548 976L549 977.7L550 979.5L550.8 981.3L551.6 983.1L552.3 985L553 986.9L553.6 988.8L554.2 990.7L554.9 992.6L555.6 994.4L556.5 996.3L557.4 998.1L558.4 999.8L559.6 1001.3L561 1002.8L562.4 1004.2L564 1005.5L565.6 1006.7L567.2 1007.8L568.9 1008.9L570.6 1010L572.2 1011.1L573.9 1012.1L575.6 1013.3L577.2 1014.4L578.8 1015.6L580.4 1016.9L581.8 1018.2L583.2 1019.7L584.5 1021.2L585.7 1022.8L586.9 1024.4L588.1 1026.1L589.2 1027.7L590.2 1029.4L591.3 1031.1L592.4 1032.8L593.6 1034.4L594.7 1036L595.9 1037.6L597.2 1039.1L598.6 1040.6L600 1042L601.5 1043.4L603 1044.7L604.5 1046L606.1 1047.2L607.7 1048.4L609.3 1049.6L610.9 1050.8L612.5 1052L614.1 1053.2L615.7 1054.3L617.3 1055.5L618.9 1056.7L620.5 1058L622.1 1059.2L623.6 1060.5L625.1 1061.8L626.6 1063.1L628.1 1064.5L629.6 1065.9L631 1067.2L632.4 1068.6L633.9 1070L635.3 1071.4L636.7 1072.9L638.1 1074.3L639.5 1075.7L640.9 1077.2L642.3 1078.6L643.7 1080L645 1081.5L646.4 1082.9L647.8 1084.3L649.2 1085.8L650.7 1087.2L652.1 1088.6L653.5 1090L655 1091.4L656.4 1092.7L657.9 1094.1L659.4 1095.4L660.9 1096.8L662.4 1098.1L663.9 1099.4L665.4 1100.7L666.9 1102L668.4 1103.3L669.9 1104.7L671.4 1106L672.9 1107.3L674.4 1108.6L675.9 1110L677.4 1111.3L678.8 1112.7L680.3 1114L681.7 1115.4L683.2 1116.8L684.6 1118.2L686 1119.6L687.4 1121L688.9 1122.4L690.3 1123.8L691.7 1125.2L693.1 1126.6L694.5 1128.1L695.9 1129.5L697.2 1131.1L698.4 1132.7L699.6 1134.3L700.7 1135.9L701.8 1137.6L702.9 1139.3L704 1141L705.1 1142.6L706.3 1144.2L707.5 1145.8L708.9 1147.2L710.3 1148.6L711.9 1149.9L713.6 1151L715.3 1152L717 1153L718.8 1154L720.5 1154.9L722.3 1155.8L724.1 1156.7L725.9 1157.6L727.7 1158.6L729.4 1159.5L731.2 1160.5L732.9 1161.5L734.6 1162.5L736.3 1163.6L737.9 1164.7L739.6 1165.9L741.2 1167.1L742.8 1168.3L744.3 1169.6L745.8 1170.9L747.3 1172.2L748.8 1173.5L750.2 1174.9L751.7 1176.3L753.1 1177.8L754.4 1179.2L755.8 1180.7L757.1 1182.2L758.4 1183.7L759.7 1185.2L761 1186.7L762.3 1188.3L763.5 1189.8L764.8 1191.4L766 1193L767.2 1194.6L768.5 1196.1L769.7 1197.7L770.9 1199.3L772.1 1200.9L773.3 1202.5L774.5 1204.1L775.8 1205.7L777 1207.3L778.2 1208.8L779.5 1210.4L780.7 1212L781.9 1213.5L783.2 1215.1L784.4 1216.7L785.7 1218.2L786.9 1219.8L788.2 1221.3L789.5 1222.9L790.7 1224.4L792 1226L793.3 1227.5L794.6 1229L795.9 1230.6L797.2 1232.1L798.4 1233.6L799.7 1235.2L801 1236.7L802.3 1238.2L803.6 1239.7L804.9 1241.2L806.2 1242.7L807.6 1244.3L808.9 1245.8L810.2 1247.3L811.5 1248.8L812.8 1250.3L814.1 1251.8L815.4 1253.3L816.8 1254.8L818.1 1256.3L819.4 1257.8L820.7 1259.3L822.1 1260.8L823.4 1262.3L824.7 1263.8L826.1 1265.3L827.4 1266.8L828.7 1268.3L830 1269.8L831.4 1271.2L832.7 1272.7L834 1274.2L835.4 1275.7L836.7 1277.2L838 1278.7L839.4 1280.2L840.7 1281.7L842 1283.2L843.3 1284.7L844.7 1286.2L846 1287.7L847.3 1289.2L848.7 1290.7L850 1292.2L851.3 1293.7L852.6 1295.2L854 1296.7L855.3 1298.2L856.6 1299.7L857.9 1301.2L859.2 1302.7L860.5 1304.2L861.9 1305.7L863.2 1307.2L864.5 1308.7L865.8 1310.2L867.1 1311.8L868.4 1313.3L869.7 1314.8L871 1316.3L872.3 1317.8L873.6 1319.4L874.9 1320.9L876.1 1322.4L877.4 1324L878.7 1325.5L880 1327L881.3 1328.6L882.5 1330.1L883.8 1331.7L885.1 1333.2L886.3 1334.8L887.6 1336.3L888.8 1337.9L890.1 1339.5L891.3 1341L892.6 1342.6L893.8 1344.2L895 1345.7L896.2 1347.3L897.5 1348.9L898.7 1350.5L899.9 1352.1L901.1 1353.7L902.3 1355.3L903.5 1356.9L904.7 1358.5L905.9 1360.1L907.1 1361.7L908.2 1363.3L909.4 1365L910.6 1366.6L911.7 1368.2L912.9 1369.8L914 1371.5L915.2 1373.1L916.3 1374.8L917.4 1376.4L918.5 1378.1L919.7 1379.7L920.8 1381.4L921.9 1383.1L923 1384.7L924.1 1386.4L925.2 1388.1L926.2 1389.8L927.3 1391.5L928.4 1393.1L929.5 1394.8L930.6 1396.5L931.6 1398.2L932.7 1399.9L933.8 1401.6L934.8 1403.3L935.9 1405L936.9 1406.7L938 1408.4L939.1 1410.1L940.1 1411.8L941.2 1413.5L942.2 1415.2L943.3 1416.9L944.3 1418.6L945.4 1420.3L946.4 1422L947.5 1423.7L948.5 1425.4L949.6 1427.1L950.6 1428.8L951.7 1430.5L952.7 1432.2L953.8 1433.9L954.8 1435.6L955.9 1437.3L957 1439L958 1440.7L959.1 1442.4L960.2 1444L961.3 1445.7L962.3 1447.4L963.4 1449.1L964.5 1450.8L965.6 1452.5L966.7 1454.1L967.8 1455.8L968.9 1457.5L970 1459.1L971.1 1460.8L972.2 1462.5L973.3 1464.1L974.5 1465.8L975.6 1467.4L976.7 1469L977.9 1470.7L979 1472.3L980.2 1473.9L981.4 1475.6L982.6 1477.2L983.7 1478.8L984.9 1480.4L986.1 1482L987.3 1483.6L988.5 1485.2L989.8 1486.8L991 1488.3L992.2 1489.9L993.5 1491.5L994.7 1493L996 1494.6L997.3 1496.1L998.6 1497.7L999.9 1499.2L1001.2 1500.7L1002.5 1502.2L1003.8 1503.7L1005.2 1505.2L1006.5 1506.7L1007.8 1508.1L1009.2 1509.6L1010.6 1511.1L1012 1512.5L1013.4 1514L1014.7 1515.4L1016.2 1516.8L1017.6 1518.2L1019 1519.6L1020.4 1521L1021.9 1522.4L1023.3 1523.8L1024.8 1525.1L1026.2 1526.5L1027.7 1527.9L1029.2 1529.2L1030.7 1530.5L1032.2 1531.8L1033.7 1533.2L1035.2 1534.5L1036.8 1535.8L1038.3 1537L1039.8 1538.3L1041.4 1539.6L1042.9 1540.8L1044.5 1542.1L1046.1 1543.3L1047.7 1544.5L1049.3 1545.7L1050.8 1546.9L1052.5 1548.1L1054.1 1549.3L1055.7 1550.5L1057.3 1551.7L1059 1552.8L1060.6 1553.9L1062.2 1555.1L1063.9 1556.2L1065.6 1557.3L1067.2 1558.4L1068.9 1559.5L1070.6 1560.6L1072.3 1561.6L1074 1562.7L1075.7 1563.7L1077.4 1564.8L1079.1 1565.8L1080.9 1566.8L1082.6 1567.8L1084.3 1568.8L1086.1 1569.8L1087.8 1570.7L1089.6 1571.7L1091.4 1572.6L1093.1 1573.5L1094.9 1574.5L1096.7 1575.4L1098.5 1576.3L1100.3 1577.1L1102.1 1578L1103.9 1578.9L1105.7 1579.7L1107.5 1580.5L1109.3 1581.3L1111.2 1582.1L1113 1582.9L1114.9 1583.7L1116.7 1584.4L1118.6 1585.1L1120.5 1585.8L1122.4 1586.5L1124.2 1587.2L1126.1 1587.8L1128 1588.4L1129.9 1589L1131.8 1589.6L1133.8 1590.2L1135.7 1590.8L1137.6 1591.4L1139.5 1591.9L1141.4 1592.5L1143.4 1593L1145.3 1593.5L1147.2 1594.1L1149.2 1594.6L1151.1 1595.1L1153 1595.6L1155 1596.1L1156.9 1596.6L1158.8 1597.1L1160.8 1597.6L1162.7 1598.2L1164.6 1598.7L1166.6 1599.2L1168.5 1599.7L1170.4 1600.2L1172.4 1600.7L1174.3 1601.2L1176.2 1601.7L1178.2 1602.2L1180.1 1602.7L1182.1 1603.2L1184 1603.7L1185.9 1604.1L1187.9 1604.6L1189.8 1605.1L1191.8 1605.6L1193.7 1606.1L1195.6 1606.6L1197.6 1607.1L1199.5 1607.5L1201.5 1608L1203.4 1608.5L1205.3 1608.9L1207.3 1609.4L1209.2 1609.9L1211.2 1610.3L1213.1 1610.8L1215.1 1611.3L1217 1611.7L1219 1612.2L1220.9 1612.6L1222.9 1613.1L1224.8 1613.5L1226.8 1613.9L1228.7 1614.4L1230.7 1614.8L1232.6 1615.2L1234.6 1615.7L1236.5 1616.1L1238.5 1616.5L1240.5 1616.9L1242.4 1617.3L1244.4 1617.7L1246.3 1618.1L1248.3 1618.5L1250.2 1618.9L1252.2 1619.3L1254.2 1619.7L1256.1 1620.1L1258.1 1620.5L1260.1 1620.8L1262 1621.2L1264 1621.6L1266 1622L1267.9 1622.3L1269.9 1622.7L1271.9 1623L1273.8 1623.4L1275.8 1623.7L1277.8 1624L1279.7 1624.4L1281.7 1624.7L1283.7 1625L1285.7 1625.4L1287.6 1625.7L1289.6 1626L1291.6 1626.3L1293.6 1626.6L1295.5 1627L1297.5 1627.3L1299.5 1627.6L1301.5 1627.9L1303.4 1628.1L1305.4 1628.4L1307.4 1628.7L1309.4 1629L1311.4 1629.3L1313.3 1629.6L1315.3 1629.9L1317.3 1630.1L1319.3 1630.4L1321.3 1630.7L1323.3 1630.9L1325.2 1631.2L1327.2 1631.4L1329.2 1631.7L1331.2 1631.9L1333.2 1632.2L1335.2 1632.4L1337.1 1632.7L1339.1 1632.9L1341.1 1633.2L1343.1 1633.4L1345.1 1633.6L1347.1 1633.9L1349.1 1634.1L1351 1634.3L1353 1634.5L1355 1634.8L1357 1635L1359 1635.2L1361 1635.4L1363 1635.6L1365 1635.8L1367 1636L1368.9 1636.2L1370.9 1636.4L1372.9 1636.6L1374.9 1636.8L1376.9 1637L1378.9 1637.2L1380.9 1637.4L1382.9 1637.6L1384.9 1637.8L1386.9 1638L1388.9 1638.2L1390.8 1638.4L1392.8 1638.5L1394.8 1638.7L1396.8 1638.9L1398.8 1639.1L1400.8 1639.2L1402.8 1639.4L1404.8 1639.6L1406.8 1639.7L1408.8 1639.9L1410.8 1640.1L1412.8 1640.2L1414.8 1640.4L1416.7 1640.6L1418.7 1640.7L1420.7 1640.9L1422.7 1641L1424.7 1641.2L1426.7 1641.4L1428.7 1641.5L1430.7 1641.7L1432.7 1641.8L1434.7 1642L1436.7 1642.1L1438.7 1642.3L1440.7 1642.4L1442.7 1642.6L1444.7 1642.7L1446.7 1642.9L1448.7 1643L1450.7 1643.1L1452.6 1643.3L1454.6 1643.4L1456.6 1643.6L1458.6 1643.7L1460.6 1643.8L1462.6 1644L1464.6 1644.1L1466.6 1644.3L1468.6 1644.4L1470.6 1644.5L1472.6 1644.7L1474.6 1644.8L1476.6 1644.9L1478.6 1645.1L1480.6 1645.2L1482.6 1645.3L1484.6 1645.5L1486.6 1645.6L1488.6 1645.8L1490.6 1645.9L1492.6 1646L1494.5 1646.2L1496.5 1646.3L1498.5 1646.4L1500.5 1646.6L1502.5 1646.7L1504.5 1646.8L1506.5 1647L1508.5 1647.1L1510.5 1647.2L1512.5 1647.4L1514.5 1647.5L1516.5 1647.6L1518.5 1647.8L1520.5 1647.9L1522.5 1648L1524.5 1648.2L1526.5 1648.3L1528.5 1648.4L1530.5 1648.6L1532.5 1648.7L1534.5 1648.9L1536.5 1649L1538.4 1649.1L1540.4 1649.3L1542.4 1649.4L1544.4 1649.6L1546.4 1649.7L1548.4 1649.9L1550.4 1650L1552.4 1650.2L1554.4 1650.3L1556.4 1650.4L1558.4 1650.6L1560.4 1650.7L1562.4 1650.9L1564.4 1651.1L1566.4 1651.2L1568.4 1651.4L1570.4 1651.5L1572.4 1651.7L1574.3 1651.8L1576.3 1652L1578.3 1652.1L1580.3 1652.3L1582.3 1652.5L1584.3 1652.6L1586.3 1652.8L1588.3 1653L1590.3 1653.1L1592.3 1653.3L1594.3 1653.4L1596.3 1653.6L1598.3 1653.8L1600.3 1653.9L1602.3 1654.1L1604.2 1654.3L1606.2 1654.4L1608.2 1654.6L1610.2 1654.8L1612.2 1654.9L1614.2 1655.1L1616.2 1655.3L1618.2 1655.5L1620.2 1655.6L1622.2 1655.8L1624.2 1656L1626.2 1656.1L1628.2 1656.3L1630.2 1656.5L1632.1 1656.6L1634.1 1656.8L1636.1 1657L1638.1 1657.1L1640.1 1657.3L1642.1 1657.5L1644.1 1657.6L1646.1 1657.8L1648.1 1658L1650.1 1658.1L1652.1 1658.3L1654.1 1658.5L1656.1 1658.6L1658.1 1658.8L1660 1659L1662 1659.1L1664 1659.3L1666 1659.5L1668 1659.6L1670 1659.8L1672 1659.9L1674 1660.1L1676 1660.3L1678 1660.4L1680 1660.6L1682 1660.7L1684 1660.9L1686 1661L1688 1661.2L1690 1661.3L1692 1661.5L1693.9 1661.6L1695.9 1661.8L1697.9 1661.9L1699.9 1662.1L1701.9 1662.2L1703.9 1662.4L1705.9 1662.5L1707.9 1662.6L1709.9 1662.8L1711.9 1662.9L1713.9 1663L1715.9 1663.2L1717.9 1663.3L1719.9 1663.4L1721.9 1663.6L1723.9 1663.7L1725.9 1663.8L1727.9 1663.9L1729.9 1664.1L1731.9 1664.2L1733.9 1664.3L1735.9 1664.4L1737.8 1664.5L1739.8 1664.6L1741.8 1664.8L1743.8 1664.9L1745.8 1665L1747.8 1665.1L1749.8 1665.2L1751.8 1665.3L1753.8 1665.4L1755.8 1665.5L1757.8 1665.6L1759.8 1665.6L1761.8 1665.7L1763.8 1665.8L1765.8 1665.9L1767.8 1666L1769.8 1666.1L1771.8 1666.1L1773.8 1666.2L1775.8 1666.3L1777.8 1666.4L1779.8 1666.4L1781.8 1666.5L1783.8 1666.5L1785.8 1666.6L1787.8 1666.6L1789.8 1666.7L1791.8 1666.7L1793.8 1666.8L1795.8 1666.8L1797.8 1666.9L1799.8 1666.9L1801.8 1666.9L1803.8 1667L1805.8 1667L1807.8 1667L1809.8 1667L1811.8 1667.1L1813.8 1667.1L1815.8 1667.1L1817.8 1667.1L1819.8 1667.1L1821.8 1667.1L1823.8 1667.1L1825.8 1667.1L1827.8 1667.1L1829.8 1667.1L1831.8 1667.1L1833.8 1667L1835.8 1667L1837.8 1667L1839.8 1667L1841.8 1666.9L1843.8 1666.9L1845.8 1666.8L1847.8 1666.8L1849.8 1666.8L1851.8 1666.7L1853.8 1666.6L1855.8 1666.6L1857.8 1666.5L1859.8 1666.4L1861.8 1666.4L1863.8 1666.3" stroke="#000000" stroke-linecap="round" stroke-linejoin="round"/>
<path d="M751.5 1477.8L751.9 1476.2L752.3 1474.2L752.7 1472.2L753.1 1470.3L753.5 1468.3L754 1466.4L754.4 1464.4L754.9 1462.5L755.4 1460.5L755.8 1458.6L756.3 1456.7L756.8 1454.7L757.2 1452.8L757.7 1450.8L758.2 1448.9L758.7 1447L759.2 1445L759.7 1443.1L760.2 1441.1L760.7 1439.2L760.8 1438.8M770.5 1403L770.9 1401.6L771.4 1399.6L771.9 1397.7L772.5 1395.8L773 1393.8L773.5 1391.9L774 1390L774.5 1388L775 1386.1L775.4 1384.1L775.9 1382.2L776.4 1380.3L776.9 1378.3L777.3 1376.4L777.8 1374.4L778.3 1372.5L778.7 1370.5L779.2 1368.6L779.6 1366.6L780 1364.7L780.1 1364M787.2 1328.2L787.5 1326.4L787.9 1324.4L788.3 1322.5L788.7 1320.5L789.2 1318.6L789.6 1316.6L790 1314.7L790.4 1312.7L790.9 1310.8L791.4 1308.8L791.8 1306.9L792.3 1304.9L792.8 1303L793.3 1301.1L793.8 1299.1L794.4 1297.2L794.9 1295.3L795.5 1293.4L796 1291.4L796.6 1289.5L796.7 1289.2M806.3 1253.4L806.6 1251.8L807 1249.9L807.4 1247.9L807.8 1246L808.2 1244L808.6 1242L809 1240.1L809.3 1238.1L809.7 1236.1L810 1234.2L810.4 1232.2L810.7 1230.2L811.1 1228.3L811.4 1226.3L811.8 1224.3L812.1 1222.4L812.5 1220.4L812.8 1218.4L813.2 1216.4L813.5 1214.5L813.5 1214.4M820.4 1178.6L820.7 1177.2L821.2 1175.2L821.6 1173.3L822 1171.3L822.4 1169.4L822.9 1167.4L823.3 1165.4L823.7 1163.5L824.2 1161.5L824.6 1159.6L825 1157.6L825.5 1155.7L825.9 1153.7L826.3 1151.8L826.8 1149.8L827.2 1147.9L827.6 1145.9L828.1 1144L828.5 1142L829 1140.1L829 1139.6M836.4 1103.8L836.7 1102.4L837.1 1100.4L837.4 1098.4L837.8 1096.5L838.1 1094.5L838.5 1092.5L838.8 1090.6L839.2 1088.6L839.5 1086.6L839.9 1084.6L840.2 1082.7L840.5 1080.7L840.9 1078.7L841.2 1076.8L841.5 1074.8L841.9 1072.8L842.2 1070.8L842.5 1068.9L842.9 1066.9L843.2 1064.9L843.2 1064.8M849.6 1029L849.9 1027.5L850.3 1025.6L850.7 1023.6L851.1 1021.6L851.5 1019.7L852 1017.7L852.4 1015.8L852.8 1013.8L853.2 1011.9L853.7 1009.9L854.1 1008L854.6 1006L855 1004.1L855.5 1002.1L856 1000.2L856.5 998.2L857 996.3L857.5 994.4L858 992.4L858.5 990.5L858.6 990M868.2 954.2L868.6 952.3L869 950.4L869.4 948.4L869.7 946.4L870 944.5L870.3 942.5L870.6 940.5L870.9 938.5L871.2 936.6L871.4 934.6L871.7 932.6L871.9 930.6L872.2 928.6L872.4 926.6L872.7 924.6L872.9 922.7L873.2 920.7L873.5 918.7L873.8 916.7L874.1 914.7L874.1 914.7M881.5 878.4L881.9 876.5L882.3 874.6L882.7 872.6L883.2 870.7L883.6 868.7L884 866.8L884.4 864.8L884.8 862.9L885.2 860.9L885.6 858.9L886 857L886.4 855L886.8 853.1L887.2 851.1L887.6 849.1L888 847.2L888.4 845.2L888.7 843.2L889.1 841.3L889.5 839.3L889.6 838.8M896.3 802.4L896.7 800.5L897.1 798.5L897.4 796.5L897.8 794.6L898.1 792.6L898.5 790.6L898.8 788.7L899.2 786.7L899.6 784.7L899.9 782.8L900.3 780.8L900.6 778.8L901 776.9L901.3 774.9L901.7 772.9L902.1 771L902.4 769L902.8 767L903.2 765.1L903.4 764M910.1 728.6L910.5 726.8L910.9 724.8L911.3 722.8L911.6 720.9L912 718.9L912.4 716.9L912.8 715L913.2 713L913.6 711.1L914 709.1L914.4 707.1L914.8 705.2L915.2 703.2L915.6 701.3L916 699.3L916.4 697.3L916.8 695.4L917.2 693.4L917.6 691.5L918 689.5L918.1 689M925.6 652.7L926 650.8L926.4 648.9L926.8 646.9L927.2 644.9L927.6 643L928 641L928.4 639.1L928.8 637.1L929.2 635.2L929.7 633.2L930.1 631.2L930.5 629.3L930.9 627.3L931.3 625.4L931.7 623.4L932.1 621.5L932.5 619.5L932.9 617.5L933.3 615.6L933.8 613.6L933.9 613.1M941.3 576.9L941.7 574.9L942.1 573L942.5 571L942.9 569.1L943.3 567.1L943.7 565.1L944.1 563.2L944.5 561.2L944.9 559.2L945.3 557.3L945.6 555.3L946 553.4L946.4 551.4L946.8 549.4L947.2 547.5L947.6 545.5L948 543.6L948.3 541.6L948.7 539.6L948.9 538.5M955.8 503.3L956.2 501.3L956.6 499.4L956.9 497.4L957.3 495.5L957.7 493.5L958.1 491.5L958.5 489.6L958.8 487.6L959.2 485.6L959.6 483.7L960 481.7L960.4 479.7L960.8 477.8L961.1 475.8L961.5 473.9L961.9 471.9L962.3 469.9L962.7 468L963.1 466L963.4 464.1M970.7 428.2L971.1 426.3L971.5 424.3L971.9 422.4L972.3 420.4L972.7 418.5L973.1 416.5L973.5 414.6L973.9 412.6L974.3 410.6L974.8 408.7L975.2 406.7L975.6 404.8L976 402.8L976.4 400.9L976.9 398.9L977.3 397L977.7 395L978.1 393L978.6 391.1L979 389.1L979.2 388.2M987.6 351.7L988 350.2L988.4 348.2L988.9 346.3L989.4 344.3L989.9 342.4L990.3 340.5L990.8 338.5L991.3 336.6L991.8 334.6L992.3 332.7L992.9 330.8L993.4 328.8L993.9 326.9L994.4 325L995 323.1L995.5 321.1L996.1 319.2L996.7 317.3L997.3 315.4L997.4 314.9M1009.4 281.1L1010 279.6L1010.8 277.7L1011.5 275.9L1012.2 274L1013 272.2L1013.7 270.3L1014.4 268.4L1015.2 266.6L1015.9 264.7L1016.7 262.9L1017.4 261L1018.2 259.2L1018.9 257.3L1019.6 255.4L1020.4 253.6L1021.1 251.7L1021.8 249.9L1022.6 248L1023.3 246.1L1024 244.4M1037.6 210.6L1038.3 209.1L1039.1 207.2L1039.9 205.4L1040.7 203.5L1041.5 201.7L1042.3 199.9L1043.1 198.1L1044 196.3L1044.9 194.5L1045.8 192.7L1046.8 191L1047.8 189.3L1048.9 187.6L1050.1 186L1051.4 184.4L1052.7 182.9L1054.2 181.6L1055.7 180.3L1057.4 179.2L1059.2 178.4L1061.1 177.8L1061.8 177.6M1095.6 192.6L1097 193.8L1098.4 195.2L1099.8 196.6L1101.2 198L1102.6 199.5L1103.9 201L1105.2 202.5L1106.5 204L1107.8 205.6L1109 207.1L1110.2 208.7L1111.4 210.3L1112.6 211.9L1113.8 213.6L1114.9 215.2L1116 216.9L1117.1 218.5L1118.2 220.2L1119.3 221.9L1120.4 223.6L1121.5 225.2L1122.5 226.9L1123.6 228.6L1123.9 229.1M1142.2 262.9L1143.1 264.7L1144 266.5L1144.8 268.3L1145.7 270.1L1146.5 271.9L1147.4 273.7L1148.2 275.5L1149 277.4L1149.8 279.2L1150.6 281L1151.4 282.8L1152.2 284.7L1153 286.5L1153.8 288.4L1154.6 290.2L1155.4 292L1156.2 293.9L1156.9 295.7L1157.7 297.6L1158.4 299.4L1158.5 299.7M1171.8 333.6L1172.5 335.3L1173.2 337.1L1174 339L1174.7 340.8L1175.5 342.7L1176.3 344.5L1177 346.4L1177.8 348.2L1178.6 350.1L1179.3 351.9L1180.1 353.8L1180.9 355.6L1181.6 357.5L1182.4 359.3L1183.1 361.2L1183.9 363L1184.6 364.9L1185.4 366.7L1186.1 368.6L1186.8 370.5L1187.6 372.3L1187.9 373.2M1199.6 409.6L1200.1 411.3L1200.7 413.2L1201.3 415.2L1201.9 417.1L1202.5 419L1203.1 420.9L1203.7 422.8L1204.4 424.7L1205 426.6L1205.6 428.5L1206.2 430.4L1206.9 432.3L1207.5 434.2L1208.1 436.1L1208.8 438L1209.4 439.9L1210 441.8L1210.7 443.7L1211.3 445.5L1212 447.4L1212.5 449M1223.9 485.1L1224.4 487L1225 489L1225.5 490.9L1226 492.8L1226.5 494.7L1227 496.7L1227.5 498.6L1228 500.5L1228.5 502.5L1229 504.4L1229.5 506.4L1230 508.3L1230.5 510.2L1231 512.2L1231.5 514.1L1232 516L1232.5 518L1233 519.9L1233.5 521.9L1233.9 523.3M1244.4 558.4L1245 560.2L1245.6 562.1L1246.2 564L1246.9 565.9L1247.5 567.8L1248.1 569.7L1248.8 571.6L1249.4 573.5L1250 575.4L1250.6 577.3L1251.3 579.2L1251.9 581.1L1252.5 583L1253.1 584.9L1253.7 586.8L1254.2 588.7L1254.8 590.6L1255.4 592.5L1255.9 594.5L1256.5 596.4L1256.9 598.1M1265 634.5L1265.3 636.4L1265.7 638.4L1266.1 640.3L1266.5 642.3L1266.8 644.3L1267.2 646.2L1267.6 648.2L1267.9 650.2L1268.3 652.1L1268.7 654.1L1269.1 656L1269.5 658L1269.9 660L1270.3 661.9L1270.7 663.9L1271.1 665.8L1271.5 667.8L1271.9 669.8L1272.4 671.7L1272.7 673.3M1282.4 709L1282.9 710.8L1283.5 712.7L1284.1 714.6L1284.7 716.5L1285.3 718.5L1285.8 720.4L1286.4 722.3L1287 724.2L1287.6 726.1L1288.2 728L1288.8 729.9L1289.4 731.8L1290 733.7L1290.5 735.7L1291.1 737.6L1291.7 739.5L1292.3 741.4L1292.8 743.3L1293.4 745.2L1294 747.2L1294.4 748.6M1304.3 784.9L1304.8 786.7L1305.3 788.6L1305.8 790.6L1306.3 792.5L1306.8 794.4L1307.3 796.4L1307.8 798.3L1308.3 800.3L1308.8 802.2L1309.3 804.1L1309.8 806.1L1310.3 808L1310.9 809.9L1311.4 811.9L1311.9 813.8L1312.4 815.7L1312.9 817.7L1313.5 819.6L1314 821.5L1314.5 823.4L1314.8 824.3M1325.5 860.4L1326.1 862.2L1326.7 864.2L1327.3 866.1L1327.9 868L1328.5 869.9L1329.1 871.8L1329.8 873.7L1330.4 875.6L1331 877.5L1331.6 879.4L1332.2 881.3L1332.9 883.2L1333.5 885.1L1334.1 887L1334.8 888.9L1335.4 890.8L1336 892.7L1336.6 894.6L1337.3 896.5L1337.9 898.4L1338 898.5M1349.8 933.6L1350.4 935.3L1351.1 937.2L1351.7 939.1L1352.4 941L1353 942.9L1353.7 944.8L1354.3 946.6L1355 948.5L1355.6 950.4L1356.3 952.3L1357 954.2L1357.6 956.1L1358.3 958L1358.9 959.9L1359.6 961.7L1360.3 963.6L1360.9 965.5L1361.6 967.4L1362.3 969.3L1362.9 971.2L1363.6 973.1L1363.6 973.1M1376.8 1009.4L1377.4 1011.1L1378.1 1013L1378.8 1014.9L1379.5 1016.8L1380.2 1018.7L1380.8 1020.5L1381.5 1022.4L1382.2 1024.3L1382.9 1026.2L1383.6 1028L1384.3 1029.9L1385 1031.8L1385.6 1033.7L1386.3 1035.6L1387 1037.4L1387.7 1039.3L1388.4 1041.2L1389.1 1043.1L1389.7 1045L1390.4 1046.8L1391.1 1048.7L1391.2 1048.9M1404.1 1085.2L1404.7 1086.9L1405.4 1088.7L1406.1 1090.6L1406.8 1092.5L1407.4 1094.4L1408.1 1096.3L1408.8 1098.1L1409.5 1100L1410.2 1101.9L1410.9 1103.8L1411.6 1105.7L1412.3 1107.5L1413 1109.4L1413.7 1111.3L1414.4 1113.1L1415.1 1115L1415.8 1116.9L1416.5 1118.8L1417.2 1120.6L1417.9 1122.5L1418.7 1124.4L1418.7 1124.5M1433.4 1160.7L1434.1 1162.3L1434.9 1164.2L1435.7 1166L1436.5 1167.8L1437.3 1169.7L1438 1171.5L1438.8 1173.4L1439.6 1175.2L1440.4 1177L1441.2 1178.9L1442 1180.7L1442.8 1182.5L1443.6 1184.4L1444.4 1186.2L1445.2 1188L1446 1189.9L1446.8 1191.7L1447.6 1193.5L1448.4 1195.4L1449.2 1197.2L1450 1199L1450.2 1199.3M1466 1234.9L1466.7 1236.5L1467.6 1238.3L1468.4 1240.1L1469.2 1241.9L1470 1243.8L1470.9 1245.6L1471.7 1247.4L1472.6 1249.2L1473.4 1251L1474.2 1252.8L1475.1 1254.6L1475.9 1256.5L1476.8 1258.3L1477.6 1260.1L1478.5 1261.9L1479.3 1263.7L1480.2 1265.5L1481 1267.3L1481.9 1269.1L1482.7 1270.9L1483.6 1272.7L1484.5 1274.5L1484.5 1274.6M1502.7 1311L1503.5 1312.5L1504.4 1314.3L1505.4 1316.1L1506.3 1317.8L1507.2 1319.6L1508.2 1321.4L1509.1 1323.1L1510.1 1324.9L1511 1326.7L1512 1328.4L1512.9 1330.2L1513.9 1331.9L1514.9 1333.7L1515.8 1335.4L1516.8 1337.2L1517.8 1338.9L1518.8 1340.7L1519.8 1342.4L1520.7 1344.1L1521.7 1345.9L1522.7 1347.6L1523.7 1349.4L1524.2 1350.2M1546.1 1386L1546.9 1387.3L1548 1389L1549.1 1390.7L1550.2 1392.3L1551.3 1394L1552.4 1395.7L1553.5 1397.3L1554.6 1399L1555.7 1400.7L1556.9 1402.3L1558 1404L1559.1 1405.6L1560.3 1407.3L1561.4 1408.9L1562.6 1410.5L1563.7 1412.2L1564.9 1413.8L1566 1415.4L1567.2 1417.1L1568.4 1418.7L1569.5 1420.3L1570.7 1421.9L1571.9 1423.5L1572.6 1424.5M1600.4 1459.6L1601.7 1461.2L1603 1462.7L1604.3 1464.2L1605.6 1465.7L1606.9 1467.2L1608.2 1468.7L1609.5 1470.3L1610.8 1471.8L1612.1 1473.3L1613.5 1474.8L1614.8 1476.3L1616.1 1477.8L1617.5 1479.2L1618.8 1480.7L1620.1 1482.2L1621.5 1483.7L1622.8 1485.2L1624.2 1486.7L1625.5 1488.1L1626.9 1489.6L1628.3 1491.1L1629.6 1492.5L1631 1494L1632.4 1495.4L1632.7 1495.8M1665.5 1528.4L1666.8 1529.6L1668.3 1530.9L1669.8 1532.2L1671.3 1533.6L1672.8 1534.9L1674.3 1536.2L1675.8 1537.5L1677.3 1538.8L1678.8 1540.1L1680.4 1541.4L1681.9 1542.7L1683.5 1543.9L1685 1545.2L1686.6 1546.4L1688.2 1547.7L1689.7 1548.9L1691.3 1550.1L1692.9 1551.3L1694.5 1552.5L1696.1 1553.7L1697.7 1554.9L1699.3 1556.1L1700.9 1557.3L1702.6 1558.4L1702.8 1558.6M1737.2 1580.1L1738.6 1580.9L1740.4 1581.9L1742.1 1582.8L1743.9 1583.7L1745.7 1584.7L1747.5 1585.6L1749.2 1586.5L1751 1587.4L1752.8 1588.3L1754.6 1589.1L1756.4 1590L1758.2 1590.9L1760 1591.7L1761.8 1592.6L1763.7 1593.4L1765.5 1594.2L1767.3 1595.1L1769.1 1595.9L1771 1596.7L1772.8 1597.5L1774.6 1598.3L1776.2 1598.9M1812 1613L1813.7 1613.6L1815.6 1614.3L1817.5 1615L1819.4 1615.6L1821.3 1616.3L1823.1 1617L1825 1617.6L1826.9 1618.3L1828.8 1619L1830.7 1619.6L1832.6 1620.3L1834.5 1620.9L1836.4 1621.6L1838.3 1622.2L1840.1 1622.9L1842 1623.5L1843.9 1624.2L1845.8 1624.8L1847.7 1625.5L1849.6 1626.1L1851 1626.6M765.5 1421.4h0.01M783.7 1346.6h0.01M801.8 1271.8h0.01M816.7 1197h0.01M832.8 1122.2h0.01M846.2 1047.4h0.01M863.6 972.6h0.01M877.4 897.1h0.01M892.9 821.1h0.01M906.6 746.8h0.01M921.7 671.4h0.01M937.5 595.5h0.01M952.3 521.4h0.01M966.9 446.7h0.01M983.2 370.3h0.01M1002.9 298.5h0.01M1030.5 227.9h0.01M1078.3 181h0.01M1133.3 245.6h0.01M1165 316.1h0.01M1194.1 390.9h0.01M1218.3 466.6h0.01M1238.7 540.3h0.01M1261.2 615.8h0.01M1277.1 690.6h0.01M1299.4 766.2h0.01M1319.8 841.9h0.01M1343.7 915.5h0.01M1370 990.8h0.01M1397.5 1066.5h0.01M1425.7 1142.1h0.01M1457.8 1216.6h0.01M1493.2 1292.3h0.01M1534.5 1367.6h0.01M1585.7 1441.6h0.01M1648.4 1512h0.01M1719.5 1569.7h0.01M1793.6 1606h0.01" stroke="#0000ff" stroke-linecap="square" stroke-linejoin="round"/>
<path d="M752.2 1453.5L752.7 1451.8L753.3 1449.9L753.8 1448L754.4 1446.1L754.9 1444.1L755.5 1442.2L756.1 1440.3L756.6 1438.4L757.2 1436.5L757.7 1434.5L758.3 1432.6L758.9 1430.7L759.4 1428.8L760 1426.9L760.5 1424.9L761.1 1423L761.6 1421.1L762.2 1419.2L762.7 1417.2L762.9 1416.5M778.4 1362.1L778.9 1360.5L779.4 1358.6L779.9 1356.6L780.5 1354.7L781 1352.8L781.5 1350.9L782.1 1348.9L782.6 1347L783.1 1345.1L783.7 1343.1L784.2 1341.2L784.7 1339.3L785.2 1337.4L785.8 1335.4L786.3 1333.5L786.8 1331.6L787.3 1329.6L787.8 1327.7L788.4 1325.8L788.5 1325.1M802.5 1270.7L802.9 1269.1L803.4 1267.2L803.9 1265.2L804.4 1263.3L804.8 1261.3L805.3 1259.4L805.8 1257.5L806.2 1255.5L806.7 1253.6L807.2 1251.6L807.6 1249.7L808.1 1247.7L808.5 1245.8L809 1243.8L809.4 1241.9L809.9 1239.9L810.3 1238L810.8 1236L811.2 1234.1L811.3 1233.7M823.6 1179.3L824.1 1177.5L824.5 1175.6L825 1173.6L825.5 1171.7L825.9 1169.7L826.4 1167.8L826.9 1165.9L827.4 1163.9L827.9 1162L828.3 1160L828.8 1158.1L829.3 1156.2L829.8 1154.2L830.3 1152.3L830.8 1150.4L831.4 1148.4L831.9 1146.5L832.4 1144.6L832.9 1142.6L833 1142.3M849.4 1087.9L849.9 1086.1L850.5 1084.2L851.1 1082.3L851.7 1080.4L852.3 1078.5L852.9 1076.6L853.5 1074.7L854 1072.8L854.6 1070.8L855.2 1068.9L855.8 1067L856.3 1065.1L856.9 1063.2L857.5 1061.2L858 1059.3L858.6 1057.4L859.1 1055.5L859.7 1053.6L860.2 1051.6L860.5 1050.6M874.4 995.9L874.9 994L875.4 992L875.9 990.1L876.4 988.2L876.9 986.2L877.4 984.3L878 982.4L878.5 980.4L879 978.5L879.5 976.6L880 974.7L880.6 972.7L881.1 970.8L881.6 968.9L882.2 966.9L882.7 965L883.2 963.1L883.8 961.2L884.3 959.2L884.3 959.2M899.7 905.3L900.3 903.5L900.8 901.5L901.3 899.6L901.9 897.7L902.4 895.8L903 893.8L903.5 891.9L904.1 890L904.6 888.1L905.1 886.1L905.7 884.2L906.2 882.3L906.7 880.4L907.3 878.4L907.8 876.5L908.3 874.6L908.9 872.6L909.4 870.7L909.9 868.8L910.1 867.9M924 813L924.4 811.1L924.9 809.1L925.3 807.2L925.8 805.2L926.3 803.3L926.7 801.3L927.2 799.4L927.6 797.5L928.1 795.5L928.5 793.6L929 791.6L929.4 789.7L929.9 787.7L930.3 785.8L930.7 783.8L931.2 781.9L931.6 779.9L932.1 778L932.5 776.3M944.5 722.3L945 720.4L945.4 718.4L945.8 716.5L946.3 714.5L946.7 712.6L947.1 710.6L947.6 708.7L948 706.7L948.4 704.8L948.9 702.8L949.3 700.9L949.8 698.9L950.2 697L950.6 695L951.1 693.1L951.5 691.1L951.9 689.2L952.4 687.2L952.8 685.6M965 631.5L965.4 629.7L965.9 627.7L966.3 625.8L966.8 623.8L967.2 621.9L967.7 619.9L968.1 618L968.5 616L969 614.1L969.4 612.1L969.9 610.2L970.3 608.2L970.8 606.3L971.2 604.3L971.7 602.4L972.1 600.4L972.5 598.5L973 596.5L973.4 594.6L973.5 594.2M985.8 539.4L986.2 537.5L986.7 535.5L987.1 533.6L987.5 531.6L987.9 529.7L988.4 527.7L988.8 525.8L989.2 523.8L989.6 521.8L990.1 519.9L990.5 517.9L990.9 516L991.4 514L991.8 512.1L992.2 510.1L992.6 508.2L993.1 506.2L993.5 504.3L993.9 502.3L993.9 502.2M1006.5 447.7L1006.9 445.8L1007.4 443.8L1007.8 441.9L1008.3 440L1008.8 438L1009.3 436.1L1009.7 434.1L1010.2 432.2L1010.7 430.2L1011.2 428.3L1011.6 426.4L1012.1 424.4L1012.6 422.5L1013.1 420.5L1013.6 418.6L1014.1 416.6L1014.6 414.7L1015 412.8L1015.5 410.8L1015.6 410.6M1030.2 356.2L1030.8 354.4L1031.3 352.4L1031.9 350.5L1032.4 348.6L1033 346.7L1033.6 344.8L1034.1 342.8L1034.7 340.9L1035.3 339L1035.8 337.1L1036.4 335.2L1037 333.2L1037.5 331.3L1038.1 329.4L1038.7 327.5L1039.3 325.6L1039.9 323.7L1040.5 321.8L1040.9 320.2M1057.2 267.2L1057.8 265.4L1058.3 263.4L1058.9 261.5L1059.5 259.6L1060.1 257.7L1060.6 255.8L1061.2 253.9L1061.8 252L1062.4 250.1L1063 248.2L1063.7 246.3L1064.3 244.4L1065 242.5L1065.7 240.6L1066.4 238.7L1067.1 236.9L1067.9 235L1068.7 233.2L1069.5 231.4L1069.6 231.2M1111.5 180L1112.9 179.2L1114.7 178.3L1116.5 177.5L1118.4 176.8L1120.3 176.3L1122.2 175.8L1124.2 175.4L1126.2 175.2L1128.2 175.1L1130.2 175.1L1132.2 175.1L1134.2 175.4L1136.1 175.7L1138.1 176.2L1140 176.9L1141.8 177.8L1143.5 178.8L1145.1 180L1146.5 181.4L1147.6 182.4M1196.1 233.5L1197.2 235.1L1198.4 236.7L1199.6 238.3L1200.7 239.9L1201.9 241.6L1203 243.2L1204.1 244.9L1205.2 246.5L1206.3 248.2L1207.4 249.9L1208.5 251.6L1209.5 253.3L1210.6 255L1211.7 256.7L1212.7 258.4L1213.7 260.1L1214.7 261.8L1215.7 263.6L1216.7 265.3L1217.7 267L1218.7 268.8L1219.1 269.5M1244.5 322.5L1245.2 324.2L1246 326.1L1246.8 327.9L1247.5 329.8L1248.3 331.6L1249.1 333.5L1249.8 335.3L1250.6 337.2L1251.3 339L1252.1 340.9L1252.8 342.7L1253.5 344.6L1254.3 346.5L1255 348.3L1255.7 350.2L1256.4 352L1257.2 353.9L1257.9 355.8L1258.6 357.6L1258.9 358.5M1277.4 411.6L1278 413.4L1278.6 415.3L1279.2 417.2L1279.8 419.1L1280.4 421L1281 422.9L1281.6 424.8L1282.2 426.7L1282.8 428.6L1283.4 430.5L1284 432.4L1284.6 434.3L1285.2 436.2L1285.8 438.2L1286.4 440.1L1287 442L1287.6 443.9L1288.2 445.8L1288.8 447.7L1289 448.3M1307.1 502.4L1307.7 504.1L1308.5 505.9L1309.2 507.8L1309.9 509.7L1310.7 511.5L1311.4 513.4L1312.2 515.2L1312.9 517.1L1313.7 519L1314.4 520.8L1315.1 522.7L1315.9 524.5L1316.6 526.4L1317.3 528.3L1318 530.1L1318.7 532L1319.4 533.9L1320.1 535.7L1320.8 537.6L1321.4 539.5M1340.5 593.9L1341.2 595.6L1342 597.5L1342.7 599.3L1343.4 601.2L1344.2 603L1344.9 604.9L1345.7 606.8L1346.4 608.6L1347.2 610.5L1347.9 612.3L1348.6 614.2L1349.4 616.1L1350.1 617.9L1350.8 619.8L1351.6 621.6L1352.3 623.5L1353 625.4L1353.7 627.2L1354.4 629.1L1355.1 631L1355.1 631M1374 685.5L1374.6 687.2L1375.3 689.1L1376 690.9L1376.7 692.8L1377.4 694.7L1378.1 696.6L1378.9 698.4L1379.6 700.3L1380.3 702.2L1381 704L1381.8 705.9L1382.5 707.7L1383.2 709.6L1384 711.5L1384.7 713.3L1385.5 715.2L1386.2 717L1386.9 718.9L1387.7 720.7L1388.3 722.4M1408.4 776.7L1409.1 778.4L1409.7 780.3L1410.4 782.2L1411.1 784L1411.8 785.9L1412.5 787.8L1413.1 789.7L1413.8 791.6L1414.5 793.4L1415.2 795.3L1415.9 797.2L1416.6 799.1L1417.3 801L1418 802.8L1418.7 804.7L1419.4 806.6L1420.1 808.4L1420.8 810.3L1421.5 812.2L1422.2 813.9M1443.9 868.6L1444.6 870.3L1445.3 872.1L1446 874L1446.7 875.9L1447.4 877.8L1448.1 879.6L1448.7 881.5L1449.4 883.4L1450.1 885.3L1450.8 887.2L1451.5 889L1452.1 890.9L1452.8 892.8L1453.5 894.7L1454.1 896.6L1454.8 898.5L1455.5 900.3L1456.2 902.2L1456.8 904.1L1457.4 905.6M1478.9 960.1L1479.6 961.8L1480.4 963.6L1481.3 965.4L1482.1 967.2L1482.9 969L1483.7 970.9L1484.6 972.7L1485.4 974.5L1486.2 976.3L1487.1 978.2L1487.9 980L1488.7 981.8L1489.5 983.6L1490.4 985.4L1491.2 987.3L1492 989.1L1492.8 990.9L1493.6 992.7L1494.5 994.6L1495.3 996.4L1495.6 997.1M1517.1 1051.4L1517.8 1053.1L1518.5 1054.9L1519.3 1056.8L1520.1 1058.6L1520.9 1060.4L1521.7 1062.3L1522.5 1064.1L1523.3 1065.9L1524.1 1067.8L1524.9 1069.6L1525.7 1071.4L1526.6 1073.2L1527.4 1075L1528.2 1076.9L1529.1 1078.7L1529.9 1080.5L1530.8 1082.3L1531.6 1084.1L1532.5 1085.9L1533.3 1087.7L1533.7 1088.5M1560 1143L1560.8 1144.4L1561.7 1146.2L1562.6 1148L1563.5 1149.8L1564.4 1151.6L1565.3 1153.4L1566.2 1155.1L1567.1 1156.9L1568 1158.7L1569 1160.5L1569.9 1162.2L1570.8 1164L1571.7 1165.8L1572.7 1167.6L1573.6 1169.3L1574.5 1171.1L1575.5 1172.9L1576.4 1174.6L1577.3 1176.4L1578.3 1178.2L1579.2 1179.9L1579.7 1180.7M1610.7 1236.2L1611.4 1237.5L1612.4 1239.3L1613.4 1241L1614.4 1242.7L1615.5 1244.5L1616.5 1246.2L1617.5 1247.9L1618.5 1249.6L1619.5 1251.4L1620.5 1253.1L1621.5 1254.8L1622.5 1256.5L1623.5 1258.3L1624.5 1260L1625.6 1261.7L1626.6 1263.4L1627.6 1265.2L1628.6 1266.9L1629.6 1268.6L1630.6 1270.3L1631.7 1272L1632.6 1273.7M1667.3 1328.8L1668.4 1330.4L1669.6 1332L1670.7 1333.7L1671.9 1335.3L1673.1 1336.9L1674.3 1338.5L1675.5 1340.1L1676.7 1341.7L1677.9 1343.3L1679.1 1344.9L1680.3 1346.5L1681.5 1348.1L1682.7 1349.7L1684 1351.3L1685.2 1352.8L1686.4 1354.4L1687.7 1356L1688.9 1357.5L1690.2 1359.1L1691.4 1360.7L1692.7 1362.2L1693.9 1363.8L1695.2 1365.3L1695.2 1365.4M1740.3 1419.1L1741.5 1420.5L1742.8 1422L1744.1 1423.5L1745.4 1425L1746.8 1426.5L1748.1 1428L1749.4 1429.5L1750.8 1430.9L1752.1 1432.4L1753.5 1433.9L1754.9 1435.3L1756.2 1436.8L1757.6 1438.2L1759 1439.7L1760.4 1441.1L1761.8 1442.5L1763.2 1443.9L1764.7 1445.3L1766.1 1446.7L1767.5 1448.1L1769 1449.5L1770.5 1450.8L1772 1452.2L1773.4 1453.5L1774.6 1454.5M1827.9 1499.4L1829.3 1500.5L1830.8 1501.8L1832.4 1503L1834 1504.2L1835.6 1505.4L1837.2 1506.6L1838.8 1507.8L1840.4 1509L1842.1 1510.1L1843.7 1511.3L1845.4 1512.4L1847 1513.5L1848.7 1514.6L1850.4 1515.7L1852.1 1516.7L1853.8 1517.8L1855.5 1518.8L1857.2 1519.8L1859 1520.8L1860.7 1521.7L1862.5 1522.7L1863.9 1523.3M768.2 1398.3h0.01M773.3 1380.3h0.01M793.3 1306.9h0.01M798 1288.9h0.01M815.4 1215.5h0.01M819.5 1197.5h0.01M838.2 1124.1h0.01M843.7 1106.1h0.01M865.3 1032.3h0.01M869.8 1014.2h0.01M889.4 941.2h0.01M894.6 923.3h0.01M915 849.5h0.01M919.5 831.3h0.01M936.5 758.2h0.01M940.5 740.3h0.01M956.8 667.5h0.01M960.9 649.6h0.01M977.7 575.9h0.01M981.7 557.7h0.01M998 484h0.01M1002.2 465.9h0.01M1020.3 392.4h0.01M1025.2 374.4h0.01M1046.4 302.5h0.01M1051.8 285h0.01M1080.1 213.5h0.01M1094.4 196h0.01M1164.2 199.5h0.01M1181.5 215.8h0.01M1228.4 287.3h0.01M1236.8 304.8h0.01M1265.4 376.3h0.01M1271.5 393.8h0.01M1294.7 466.4h0.01M1300.6 484.3h0.01M1327.3 557.7h0.01M1333.5 575.7h0.01M1361.5 649.2h0.01M1367.6 667.3h0.01M1395.4 740.5h0.01M1401.9 758.5h0.01M1429.4 832.2h0.01M1436.7 850.3h0.01M1464 923.9h0.01M1471.1 941.9h0.01M1503.3 1015.3h0.01M1510.1 1033.2h0.01M1542.4 1106.7h0.01M1551 1124.7h0.01M1589.8 1199.3h0.01M1600.1 1217.6h0.01M1643.7 1292.1h0.01M1655 1310.4h0.01M1710.1 1383.4h0.01M1725.1 1401.2h0.01M1792.4 1469.3h0.01M1810 1484.4h0.01" stroke="#ff00ff" stroke-linecap="square" stroke-linejoin="round"/>
<path d="M751.7 1467L752.1 1465.1L752.6 1463.2L753.1 1461.2L753.6 1459.3L754.1 1457.4L754.6 1455.4L755.1 1453.5L755.6 1451.5L756.1 1449.6L756.6 1447.7L757.1 1445.7L757.6 1443.8L758.1 1441.9L758.6 1439.9L759.1 1438L759.6 1436.1L760.1 1434.1L760.6 1432.2L761.1 1430.2L761.6 1428.3L762.1 1426.4L762.6 1424.4L763.1 1422.5L763.6 1420.6L764.1 1418.6L764.6 1416.7L765.2 1414.8L765.7 1412.8L766.2 1410.9L766.7 1409M775.2 1377L775.7 1375.1L776.2 1373.2L776.7 1371.3L777.2 1369.3L777.7 1367.4L778.2 1365.5L778.7 1363.5L779.2 1361.6L779.7 1359.7L780.3 1357.7L780.8 1355.8L781.3 1353.9L781.8 1351.9L782.3 1350L782.8 1348.1L783.3 1346.1L783.8 1344.2L784.3 1342.3L784.8 1340.3L785.3 1338.4L785.8 1336.5L786.3 1334.5L786.8 1332.6L787.3 1330.6L787.8 1328.7L788.3 1326.8L788.8 1324.8L789.3 1322.9L789.8 1321L790.3 1319M798.2 1287L798.6 1285.5L799.1 1283.6L799.5 1281.6L800 1279.7L800.5 1277.8L800.9 1275.8L801.4 1273.9L801.8 1271.9L802.3 1270L802.7 1268L803.2 1266.1L803.6 1264.1L804.1 1262.2L804.5 1260.2L805 1258.3L805.4 1256.3L805.9 1254.4L806.3 1252.4L806.7 1250.5L807.2 1248.5L807.6 1246.6L808 1244.6L808.5 1242.7L808.9 1240.7L809.3 1238.7L809.7 1236.8L810.2 1234.8L810.6 1232.9L811 1230.9L811.4 1229M818 1197L818.4 1195.2L818.8 1193.2L819.2 1191.3L819.5 1189.3L819.9 1187.3L820.3 1185.4L820.7 1183.4L821.1 1181.4L821.5 1179.5L821.8 1177.5L822.2 1175.6L822.6 1173.6L823 1171.6L823.4 1169.7L823.7 1167.7L824.1 1165.7L824.5 1163.8L824.9 1161.8L825.2 1159.8L825.6 1157.9L826 1155.9L826.3 1153.9L826.7 1152L827.1 1150L827.4 1148L827.8 1146.1L828.2 1144.1L828.5 1142.1L828.9 1140.2L829.1 1139M834.9 1107L835.2 1105.2L835.6 1103.3L835.9 1101.3L836.3 1099.3L836.6 1097.4L837 1095.4L837.3 1093.4L837.7 1091.5L838 1089.5L838.4 1087.5L838.7 1085.6L839.1 1083.6L839.4 1081.6L839.8 1079.6L840.1 1077.7L840.5 1075.7L840.8 1073.7L841.2 1071.8L841.5 1069.8L841.8 1067.8L842.2 1065.9L842.5 1063.9L842.9 1061.9L843.2 1059.9L843.6 1058L843.9 1056L844.2 1054L844.6 1052.1L844.9 1050.1L845.1 1049M850.6 1017L850.9 1015.1L851.3 1013.1L851.6 1011.2L851.9 1009.2L852.3 1007.2L852.6 1005.2L853 1003.3L853.3 1001.3L853.6 999.3L854 997.4L854.3 995.4L854.6 993.4L855 991.4L855.3 989.5L855.6 987.5L856 985.5L856.3 983.6L856.6 981.6L857 979.6L857.3 977.6L857.6 975.7L858 973.7L858.3 971.7L858.6 969.8L859 967.8L859.3 965.8L859.6 963.8L860 961.9L860.3 959.9L860.5 958.6M866 926.3L866.3 924.4L866.6 922.4L867 920.4L867.3 918.5L867.6 916.5L868 914.5L868.3 912.6L868.6 910.6L869 908.6L869.3 906.6L869.6 904.7L870 902.7L870.3 900.7L870.6 898.8L871 896.8L871.3 894.8L871.6 892.8L872 890.9L872.3 888.9L872.6 886.9L873 885L873.3 883L873.6 881L874 879L874.3 877.1L874.6 875.1L875 873.1L875.3 871.2L875.7 869.2L875.8 868.2M881.3 836.2L881.6 834.7L881.9 832.7L882.3 830.7L882.6 828.8L883 826.8L883.3 824.8L883.6 822.9L884 820.9L884.3 818.9L884.7 817L885 815L885.4 813L885.7 811L886 809.1L886.4 807.1L886.7 805.1L887.1 803.2L887.4 801.2L887.8 799.2L888.1 797.3L888.5 795.3L888.8 793.3L889.2 791.3L889.5 789.4L889.9 787.4L890.2 785.4L890.6 783.5L890.9 781.5L891.3 779.5L891.4 779.1M897.1 747.5L897.4 745.6L897.8 743.6L898.1 741.6L898.5 739.7L898.8 737.7L899.2 735.7L899.6 733.8L899.9 731.8L900.3 729.8L900.7 727.9L901 725.9L901.4 723.9L901.8 722L902.1 720L902.5 718L902.9 716.1L903.2 714.1L903.6 712.2L904 710.2L904.3 708.2L904.7 706.3L905.1 704.3L905.4 702.3L905.8 700.4L906.2 698.4L906.6 696.4L906.9 694.5L907.3 692.5L907.7 690.5L907.9 689.2M914.1 657.1L914.5 655.2L914.8 653.2L915.2 651.3L915.6 649.3L916 647.3L916.4 645.4L916.8 643.4L917.1 641.4L917.5 639.5L917.9 637.5L918.3 635.5L918.7 633.6L919.1 631.6L919.4 629.7L919.8 627.7L920.2 625.7L920.6 623.8L921 621.8L921.4 619.8L921.8 617.9L922.2 615.9L922.5 614L922.9 612L923.3 610L923.7 608.1L924.1 606.1L924.5 604.2L924.9 602.2L925.3 600.2L925.5 598.9M931.9 566.8L932.3 564.9L932.7 563L933.1 561L933.5 559L933.9 557.1L934.3 555.1L934.7 553.2L935.1 551.2L935.5 549.2L935.9 547.3L936.3 545.3L936.7 543.4L937.1 541.4L937.5 539.4L937.9 537.5L938.3 535.5L938.7 533.6L939.1 531.6L939.5 529.6L939.9 527.7L940.3 525.7L940.7 523.8L941.1 521.8L941.4 519.8L941.8 517.9L942.2 515.9L942.6 514L943 512L943.4 510L943.8 508.1M950.6 475.8L950.9 474.3L951.3 472.4L951.7 470.4L952.2 468.4L952.6 466.5L953.1 464.5L953.5 462.6L953.9 460.6L954.4 458.7L954.9 456.8L955.3 454.8L955.8 452.9L956.3 450.9L956.8 449L957.3 447L957.7 445.1L958.2 443.2L958.8 441.2L959.3 439.3L959.8 437.4L960.3 435.4L960.9 433.5L961.4 431.6L962 429.7L962.5 427.7L963.1 425.8L963.6 423.9L964.2 422L964.8 420.1L965 419.4M973.9 388.3L974.4 386.4L974.9 384.5L975.4 382.5L975.8 380.6L976.3 378.7L976.8 376.7L977.2 374.8L977.7 372.8L978.1 370.9L978.6 368.9L979 367L979.5 365L979.9 363.1L980.4 361.1L980.8 359.2L981.3 357.2L981.7 355.3L982.2 353.3L982.7 351.4L983.1 349.4L983.6 347.5L984.1 345.6L984.6 343.6L985.1 341.7L985.7 339.8L986.2 337.8L986.7 335.9L987.3 334L987.9 332.1L988.4 330.5M1000.9 298.7L1001.5 297.2L1002.4 295.4L1003.2 293.5L1004 291.7L1004.8 289.9L1005.7 288.1L1006.5 286.3L1007.4 284.5L1008.2 282.6L1009 280.8L1009.9 279L1010.7 277.2L1011.6 275.4L1012.4 273.6L1013.2 271.7L1014 269.9L1014.9 268.1L1015.7 266.3L1016.5 264.4L1017.3 262.6L1018.1 260.8L1018.9 258.9L1019.7 257.1L1020.4 255.2L1021.2 253.4L1021.9 251.5L1022.7 249.7L1023.4 247.8L1024.2 246L1024.9 244.1L1025.7 242.3L1026.2 240.9M1041.1 209.1L1042 207.5L1043.1 205.8L1044.2 204.1L1045.4 202.5L1046.6 200.9L1047.8 199.3L1049 197.7L1050.4 196.2L1051.7 194.8L1053.1 193.3L1054.5 191.9L1056 190.6L1057.5 189.3L1059.1 188L1060.7 186.8L1062.3 185.7L1064 184.6L1065.7 183.6L1067.5 182.6L1069.2 181.7L1071.1 180.8L1072.9 180.1L1074.8 179.3L1076.7 178.7L1078.6 178.1L1080.5 177.6L1082.4 177.2L1084.4 176.8L1086.4 176.5L1088.4 176.3L1090.4 176.2L1092.4 176.3L1094.4 176.4L1095.1 176.4M1126.7 195.9L1127.8 197.3L1129.1 198.8L1130.4 200.3L1131.7 201.9L1132.9 203.5L1134.1 205.1L1135.3 206.7L1136.5 208.3L1137.7 209.9L1138.8 211.5L1140 213.2L1141.2 214.8L1142.3 216.4L1143.4 218.1L1144.6 219.7L1145.7 221.4L1146.9 223L1148 224.6L1149.2 226.3L1150.3 227.9L1151.4 229.6L1152.6 231.2L1153.7 232.8L1154.9 234.5L1156 236.1L1157.2 237.7L1158.3 239.4L1159.4 241L1160.6 242.7L1161.7 244.4L1162.8 246L1163.9 247.7L1165 249.4L1166.1 251L1167.2 252.7L1167.8 253.7M1185.3 285.6L1186.2 287.3L1187 289.1L1187.9 290.9L1188.7 292.7L1189.6 294.6L1190.4 296.4L1191.3 298.2L1192.1 300L1192.9 301.8L1193.7 303.7L1194.5 305.5L1195.4 307.3L1196.2 309.1L1197 311L1197.8 312.8L1198.6 314.6L1199.3 316.5L1200.1 318.3L1200.9 320.2L1201.7 322L1202.5 323.8L1203.3 325.7L1204 327.5L1204.8 329.4L1205.6 331.2L1206.4 333.1L1207.1 334.9L1207.9 336.7L1208.7 338.6L1209.4 340.4L1210.2 342.3L1210.6 343.3M1224.1 375.2L1224.8 376.8L1225.6 378.7L1226.4 380.5L1227.1 382.4L1227.9 384.2L1228.7 386L1229.5 387.9L1230.2 389.7L1231 391.6L1231.8 393.4L1232.5 395.3L1233.3 397.1L1234 399L1234.8 400.8L1235.6 402.7L1236.3 404.5L1237.1 406.4L1237.8 408.3L1238.5 410.1L1239.3 412L1240 413.8L1240.7 415.7L1241.5 417.6L1242.2 419.4L1242.9 421.3L1243.6 423.2L1244.3 425L1245 426.9L1245.7 428.8L1246.4 430.6L1247.1 432.5L1247.4 433.2M1258.4 465.3L1259 467L1259.6 468.9L1260.2 470.8L1260.8 472.7L1261.4 474.7L1262 476.6L1262.7 478.5L1263.3 480.4L1263.9 482.3L1264.5 484.2L1265.1 486.1L1265.7 488L1266.3 489.9L1266.9 491.8L1267.5 493.7L1268.1 495.6L1268.7 497.5L1269.3 499.4L1269.9 501.3L1270.5 503.2L1271.1 505.2L1271.7 507.1L1272.3 509L1272.9 510.9L1273.5 512.8L1274.1 514.7L1274.8 516.6L1275.4 518.5L1276 520.4L1276.6 522.3L1276.9 523.2M1287.8 555.1L1288.4 556.8L1289 558.7L1289.7 560.6L1290.4 562.5L1291 564.4L1291.7 566.3L1292.4 568.2L1293 570L1293.7 571.9L1294.4 573.8L1295.1 575.7L1295.7 577.6L1296.4 579.5L1297.1 581.3L1297.8 583.2L1298.5 585.1L1299.1 587L1299.8 588.9L1300.5 590.7L1301.2 592.6L1301.9 594.5L1302.6 596.4L1303.3 598.3L1303.9 600.1L1304.6 602L1305.3 603.9L1306 605.8L1306.7 607.6L1307.4 609.5L1308.1 611.4L1308.8 613.3L1308.9 613.6M1320.6 645.9L1321.3 647.6L1321.9 649.4L1322.6 651.3L1323.3 653.2L1324 655.1L1324.7 657L1325.4 658.8L1326.1 660.7L1326.7 662.6L1327.4 664.5L1328.1 666.4L1328.8 668.2L1329.5 670.1L1330.2 672L1330.9 673.9L1331.6 675.7L1332.3 677.6L1332.9 679.5L1333.6 681.4L1334.3 683.2L1335 685.1L1335.7 687L1336.4 688.9L1337.1 690.8L1337.8 692.6L1338.5 694.5L1339.2 696.4L1339.9 698.3L1340.6 700.1L1341.3 702L1342 703.9L1342.1 704.2M1354.2 736.3L1354.9 738L1355.6 739.9L1356.3 741.8L1357 743.6L1357.7 745.5L1358.5 747.4L1359.2 749.2L1359.9 751.1L1360.6 753L1361.3 754.8L1362.1 756.7L1362.8 758.6L1363.5 760.4L1364.2 762.3L1364.9 764.1L1365.7 766L1366.4 767.9L1367.1 769.7L1367.8 771.6L1368.6 773.5L1369.3 775.3L1370 777.2L1370.7 779.1L1371.5 780.9L1372.2 782.8L1372.9 784.7L1373.6 786.5L1374.4 788.4L1375.1 790.2L1375.8 792.1L1376.6 794M1389.1 825.8L1389.7 827.5L1390.5 829.3L1391.2 831.2L1391.9 833.1L1392.6 834.9L1393.4 836.8L1394.1 838.6L1394.8 840.5L1395.6 842.4L1396.3 844.2L1397 846.1L1397.8 847.9L1398.5 849.8L1399.2 851.7L1400 853.5L1400.7 855.4L1401.5 857.2L1402.2 859.1L1402.9 861L1403.7 862.8L1404.4 864.7L1405.1 866.5L1405.9 868.4L1406.6 870.3L1407.3 872.1L1408.1 874L1408.8 875.8L1409.6 877.7L1410.3 879.6L1411 881.4L1411.8 883.3L1412.4 884.8M1425.4 917.4L1426.1 919L1426.8 920.9L1427.6 922.7L1428.3 924.6L1429.1 926.4L1429.8 928.3L1430.6 930.1L1431.3 932L1432.1 933.8L1432.8 935.7L1433.6 937.6L1434.3 939.4L1435.1 941.3L1435.9 943.1L1436.6 945L1437.4 946.8L1438.1 948.7L1438.9 950.5L1439.6 952.4L1440.4 954.2L1441.2 956.1L1441.9 957.9L1442.7 959.8L1443.4 961.6L1444.2 963.5L1445 965.3L1445.7 967.2L1446.5 969L1447.3 970.9L1448 972.7L1448.8 974.5L1449.4 976M1463 1008.4L1463.7 1010L1464.5 1011.9L1465.3 1013.7L1466.1 1015.5L1466.9 1017.4L1467.7 1019.2L1468.5 1021.1L1469.3 1022.9L1470.1 1024.7L1470.8 1026.6L1471.6 1028.4L1472.4 1030.2L1473.2 1032.1L1474 1033.9L1474.8 1035.7L1475.6 1037.6L1476.4 1039.4L1477.2 1041.2L1478 1043.1L1478.8 1044.9L1479.6 1046.7L1480.4 1048.6L1481.3 1050.4L1482.1 1052.2L1482.9 1054.1L1483.7 1055.9L1484.5 1057.7L1485.3 1059.5L1486.1 1061.4L1486.9 1063.2L1487.8 1065L1488 1065.5M1502.4 1097.2L1503.1 1098.7L1503.9 1100.5L1504.8 1102.3L1505.6 1104.1L1506.5 1105.9L1507.3 1107.7L1508.2 1109.6L1509 1111.4L1509.9 1113.2L1510.7 1115L1511.6 1116.8L1512.4 1118.6L1513.3 1120.4L1514.2 1122.2L1515 1124L1515.9 1125.8L1516.7 1127.6L1517.6 1129.4L1518.5 1131.2L1519.3 1133L1520.2 1134.8L1521.1 1136.6L1521.9 1138.4L1522.8 1140.2L1523.7 1142L1524.6 1143.8L1525.5 1145.6L1526.3 1147.4L1527.2 1149.2L1528.1 1151L1529 1152.8L1529.9 1154.6L1530.8 1156.4L1531.3 1157.4M1548.1 1190.6L1548.9 1192.1L1549.8 1193.8L1550.7 1195.6L1551.7 1197.4L1552.6 1199.1L1553.5 1200.9L1554.4 1202.7L1555.4 1204.5L1556.3 1206.2L1557.3 1208L1558.2 1209.8L1559.1 1211.5L1560.1 1213.3L1561 1215L1562 1216.8L1562.9 1218.6L1563.9 1220.3L1564.8 1222.1L1565.8 1223.8L1566.7 1225.6L1567.7 1227.3L1568.7 1229.1L1569.6 1230.9L1570.6 1232.6L1571.6 1234.4L1572.5 1236.1L1573.5 1237.9L1574.5 1239.6L1575.4 1241.4L1576.4 1243.1L1577.4 1244.8L1578.4 1246.6L1579.4 1248.3L1579.5 1248.6M1598.1 1280.6L1599 1282L1600 1283.8L1601 1285.5L1602 1287.2L1603.1 1288.9L1604.1 1290.6L1605.2 1292.3L1606.2 1294L1607.2 1295.7L1608.3 1297.4L1609.3 1299.1L1610.4 1300.8L1611.5 1302.5L1612.5 1304.2L1613.6 1305.9L1614.6 1307.6L1615.7 1309.3L1616.8 1311L1617.9 1312.7L1618.9 1314.4L1620 1316.1L1621.1 1317.7L1622.2 1319.4L1623.3 1321.1L1624.3 1322.8L1625.4 1324.4L1626.5 1326.1L1627.6 1327.8L1628.7 1329.5L1629.8 1331.1L1631 1332.8L1632.1 1334.5L1633.2 1336.1L1634.3 1337.8L1634.3 1337.8M1656.5 1369.4L1657.6 1370.9L1658.8 1372.5L1660 1374.1L1661.2 1375.7L1662.4 1377.3L1663.6 1378.9L1664.8 1380.5L1666 1382.1L1667.3 1383.7L1668.5 1385.2L1669.7 1386.8L1670.9 1388.4L1672.2 1390L1673.4 1391.6L1674.6 1393.1L1675.9 1394.7L1677.1 1396.3L1678.4 1397.8L1679.6 1399.4L1680.9 1400.9L1682.1 1402.5L1683.4 1404L1684.7 1405.6L1685.9 1407.1L1687.2 1408.7L1688.5 1410.2L1689.8 1411.7L1691.1 1413.3L1692.4 1414.8L1693.7 1416.3L1695 1417.8L1696.3 1419.4L1697.6 1420.9L1698.9 1422.4L1700.2 1423.9L1701.5 1425.4L1702.8 1426.9L1703.6 1427.8M1734.1 1460L1735.5 1461.4L1736.9 1462.8L1738.4 1464.2L1739.8 1465.6L1741.2 1466.9L1742.7 1468.3L1744.1 1469.7L1745.6 1471.1L1747 1472.4L1748.5 1473.8L1750 1475.2L1751.4 1476.5L1752.9 1477.9L1754.4 1479.2L1755.9 1480.6L1757.4 1481.9L1758.8 1483.2L1760.3 1484.6L1761.8 1485.9L1763.4 1487.2L1764.9 1488.5L1766.4 1489.8L1767.9 1491.1L1769.4 1492.4L1770.9 1493.7L1772.5 1495L1774 1496.3L1775.5 1497.6L1777.1 1498.8L1778.6 1500.1L1780.2 1501.4L1781.7 1502.6L1783.3 1503.9L1784.9 1505.1L1786.4 1506.3L1788 1507.6L1789.6 1508.8L1791.2 1510L1792.4 1511M1824.6 1533.7L1825.9 1534.6L1827.5 1535.7L1829.2 1536.7L1830.9 1537.8L1832.6 1538.9L1834.3 1539.9L1836 1541L1837.7 1542L1839.4 1543.1L1841.1 1544.1L1842.9 1545.1L1844.6 1546.1L1846.3 1547.1L1848.1 1548.1L1849.8 1549.1L1851.5 1550.1L1853.3 1551.1L1855 1552.1L1856.8 1553L1858.5 1554L1860.3 1554.9L1862.1 1555.9L1863.4 1556.6" stroke="#008000" stroke-linecap="square" stroke-linejoin="round"/>
<path d="M751.7 1596.1L752.7 1594.4L753.6 1592.6L754.6 1590.8L755.5 1589.1L756.5 1587.3L757.4 1585.6L758.3 1583.8L759.3 1582L760.2 1580.3L761.1 1578.5L762.1 1576.7L763 1574.9L763.9 1573.2L764.8 1571.4L765.7 1569.6L766.6 1567.8L767.5 1566L768.4 1564.2L769.3 1562.5L770.2 1560.7L771.1 1558.9L772 1557.1L772.9 1555.3L773.8 1553.5L774.7 1551.7L775.5 1549.9L776.4 1548.1L777.3 1546.3L778.1 1544.5L779 1542.7L779.9 1540.9L780.7 1539.1L781.6 1537.3L782.4 1535.5L783.3 1533.6L784.1 1531.8L784.9 1530L785.8 1528.2L786.6 1526.4L787.4 1524.6L788.3 1522.7L789.1 1520.9L789.9 1519.1L790.7 1517.3L791.5 1515.4L792.3 1513.6L793.2 1511.8L794 1509.9L794.8 1508.1L795.6 1506.3L796.4 1504.4L797.2 1502.6L797.9 1500.8L798.7 1498.9L799.5 1497.1L800.3 1495.3L801.1 1493.4L801.9 1491.6L802.6 1489.7L803.4 1487.9L804.2 1486L804.9 1484.2L805.7 1482.3L806.5 1480.5L807.2 1478.6L808 1476.8L808.7 1474.9L809.5 1473.1L810.2 1471.2L811 1469.4L811.7 1467.5L812.4 1465.6L813.2 1463.8L813.9 1461.9L814.6 1460.1L815.4 1458.2L816.1 1456.3L816.8 1454.5L817.5 1452.6L818.2 1450.7L819 1448.9L819.7 1447L820.4 1445.1L821.1 1443.3L821.8 1441.4L822.5 1439.5L823.2 1437.6L823.9 1435.8L824.6 1433.9L825.3 1432L826 1430.1L826.7 1428.3L827.3 1426.4L828 1424.5L828.7 1422.6L829.4 1420.7L830.1 1418.9L830.7 1417L831.4 1415.1L832.1 1413.2L832.8 1411.3L833.4 1409.4L834.1 1407.6L834.7 1405.7L835.4 1403.8L836.1 1401.9L836.7 1400L837.4 1398.1L838 1396.2L838.7 1394.3L839.3 1392.4L840 1390.5L840.6 1388.7L841.2 1386.8L841.9 1384.9L842.5 1383L843.2 1381.1L843.8 1379.2L844.4 1377.3L845.1 1375.4L845.7 1373.5L846.3 1371.6L846.9 1369.7L847.6 1367.8L848.2 1365.9L848.8 1364L849.4 1362.1L850 1360.2L850.6 1358.3L851.3 1356.4L851.9 1354.5L852.5 1352.5L853.1 1350.6L853.7 1348.7L854.3 1346.8L854.9 1344.9L855.5 1343L856.1 1341.1L856.7 1339.2L857.3 1337.3L857.9 1335.4L858.5 1333.5L859.1 1331.6L859.6 1329.6L860.2 1327.7L860.8 1325.8L861.4 1323.9L862 1322L862.6 1320.1L863.1 1318.2L863.7 1316.3L864.3 1314.3L864.9 1312.4L865.5 1310.5L866 1308.6L866.6 1306.7L867.2 1304.8L867.7 1302.8L868.3 1300.9L868.9 1299L869.4 1297.1L870 1295.2L870.6 1293.3L871.1 1291.3L871.7 1289.4L872.3 1287.5L872.8 1285.6L873.4 1283.7L873.9 1281.7L874.5 1279.8L875.1 1277.9L875.6 1276L876.2 1274L876.7 1272.1L877.3 1270.2L877.8 1268.3L878.4 1266.4L878.9 1264.4L879.5 1262.5L880 1260.6L880.6 1258.7L881.1 1256.7L881.6 1254.8L882.2 1252.9L882.7 1251L883.3 1249L883.8 1247.1L884.3 1245.2L884.9 1243.3L885.4 1241.3L886 1239.4L886.5 1237.5L887 1235.6L887.6 1233.6L888.1 1231.7L888.6 1229.8L889.1 1227.8L889.7 1225.9L890.2 1224L890.7 1222.1L891.3 1220.1L891.8 1218.2L892.3 1216.3L892.8 1214.3L893.4 1212.4L893.9 1210.5L894.4 1208.5L894.9 1206.6L895.4 1204.7L895.9 1202.7L896.5 1200.8L897 1198.9L897.5 1196.9L898 1195L898.5 1193.1L899 1191.1L899.5 1189.2L900.1 1187.3L900.6 1185.3L901.1 1183.4L901.6 1181.5L902.1 1179.5L902.6 1177.6L903.1 1175.7L903.6 1173.7L904.1 1171.8L904.6 1169.9L905.1 1167.9L905.6 1166L906.1 1164.1L906.6 1162.1L907.1 1160.2L907.6 1158.2L908.1 1156.3L908.6 1154.4L909.1 1152.4L909.6 1150.5L910.1 1148.6L910.5 1146.6L911 1144.7L911.5 1142.7L912 1140.8L912.5 1138.9L913 1136.9L913.5 1135L914 1133L914.4 1131.1L914.9 1129.2L915.4 1127.2L915.9 1125.3L916.4 1123.3L916.8 1121.4L917.3 1119.4L917.8 1117.5L918.3 1115.6L918.7 1113.6L919.2 1111.7L919.7 1109.7L920.2 1107.8L920.6 1105.8L921.1 1103.9L921.6 1102L922 1100L922.5 1098.1L923 1096.1L923.4 1094.2L923.9 1092.2L924.4 1090.3L924.8 1088.3L925.3 1086.4L925.8 1084.4L926.2 1082.5L926.7 1080.6L927.1 1078.6L927.6 1076.7L928 1074.7L928.5 1072.8L929 1070.8L929.4 1068.9L929.9 1066.9L930.3 1065L930.8 1063L931.2 1061.1L931.7 1059.1L932.1 1057.2L932.6 1055.2L933 1053.3L933.5 1051.3L933.9 1049.4L934.3 1047.4L934.8 1045.5L935.2 1043.5L935.7 1041.6L936.1 1039.6L936.6 1037.7L937 1035.7L937.4 1033.8L937.9 1031.8L938.3 1029.9L938.7 1027.9L939.2 1026L939.6 1024L940 1022.1L940.5 1020.1L940.9 1018.2L941.3 1016.2L941.8 1014.3L942.2 1012.3L942.6 1010.3L943.1 1008.4L943.5 1006.4L943.9 1004.5L944.3 1002.5L944.7 1000.6L945.2 998.6L945.6 996.7L946 994.7L946.4 992.8L946.9 990.8L947.3 988.8L947.7 986.9L948.1 984.9L948.5 983L948.9 981L949.4 979.1L949.8 977.1L950.2 975.1L950.6 973.2L951 971.2L951.4 969.3L951.8 967.3L952.2 965.4L952.6 963.4L953 961.4L953.4 959.5L953.9 957.5L954.3 955.6L954.7 953.6L955.1 951.6L955.5 949.7L955.9 947.7L956.3 945.8L956.7 943.8L957.1 941.8L957.5 939.9L957.9 937.9L958.2 936L958.6 934L959 932L959.4 930.1L959.8 928.1L960.2 926.2L960.6 924.2L961 922.2L961.4 920.3L961.8 918.3L962.2 916.4L962.5 914.4L962.9 912.4L963.3 910.5L963.7 908.5L964.1 906.5L964.5 904.6L964.9 902.6L965.2 900.7L965.6 898.7L966 896.7L966.4 894.8L966.7 892.8L967.1 890.8L967.5 888.9L967.9 886.9L968.2 884.9L968.6 883L969 881L969.4 879L969.7 877.1L970.1 875.1L970.5 873.1L970.8 871.2L971.2 869.2L971.6 867.2L971.9 865.3L972.3 863.3L972.7 861.4L973 859.4L973.4 857.4L973.8 855.5L974.1 853.5L974.5 851.5L974.9 849.5L975.2 847.6L975.6 845.6L975.9 843.6L976.3 841.7L976.6 839.7L977 837.7L977.4 835.8L977.7 833.8L978.1 831.8L978.4 829.9L978.8 827.9L979.1 825.9L979.5 824L979.8 822L980.2 820L980.5 818.1L980.9 816.1L981.2 814.1L981.5 812.1L981.9 810.2L982.2 808.2L982.6 806.2L982.9 804.3L983.3 802.3L983.6 800.3L983.9 798.3L984.3 796.4L984.6 794.4L985 792.4L985.3 790.5L985.6 788.5L986 786.5L986.3 784.6L986.6 782.6L987 780.6L987.3 778.6L987.6 776.7L988 774.7L988.3 772.7L988.6 770.7L989 768.8L989.3 766.8L989.6 764.8L989.9 762.9L990.3 760.9L990.6 758.9L990.9 756.9L991.3 755L991.6 753L991.9 751L992.2 749L992.5 747.1L992.9 745.1L993.2 743.1L993.5 741.1L993.8 739.2L994.2 737.2L994.5 735.2L994.8 733.3L995.1 731.3L995.4 729.3L995.8 727.3L996.1 725.4L996.4 723.4L996.7 721.4L997 719.4L997.4 717.5L997.7 715.5L998 713.5L998.3 711.5L998.6 709.6L998.9 707.6L999.3 705.6L999.6 703.6L999.9 701.7L1000.2 699.7L1000.5 697.7L1000.8 695.7L1001.1 693.8L1001.5 691.8L1001.8 689.8L1002.1 687.8L1002.4 685.9L1002.7 683.9L1003 681.9L1003.3 679.9L1003.6 678L1004 676L1004.3 674L1004.6 672L1004.9 670L1005.2 668.1L1005.5 666.1L1005.8 664.1L1006.1 662.1L1006.4 660.2L1006.8 658.2L1007.1 656.2L1007.4 654.2L1007.7 652.3L1008 650.3L1008.3 648.3L1008.6 646.3L1008.9 644.4L1009.2 642.4L1009.5 640.4L1009.9 638.4L1010.2 636.5L1010.5 634.5L1010.8 632.5L1011.1 630.5L1011.4 628.6L1011.7 626.6L1012 624.6L1012.3 622.6L1012.6 620.7L1013 618.7L1013.3 616.7L1013.6 614.7L1013.9 612.8L1014.2 610.8L1014.5 608.8L1014.8 606.8L1015.1 604.8L1015.4 602.9L1015.8 600.9L1016.1 598.9L1016.4 596.9L1016.7 595L1017 593L1017.3 591L1017.6 589L1017.9 587.1L1018.3 585.1L1018.6 583.1L1018.9 581.1L1019.2 579.2L1019.5 577.2L1019.8 575.2L1020.1 573.2L1020.5 571.3L1020.8 569.3L1021.1 567.3L1021.4 565.3L1021.7 563.4L1022 561.4L1022.3 559.4L1022.7 557.4L1023 555.5L1023.3 553.5L1023.6 551.5L1023.9 549.5L1024.3 547.6L1024.6 545.6L1024.9 543.6L1025.2 541.6L1025.5 539.7L1025.9 537.7L1026.2 535.7L1026.5 533.8L1026.8 531.8L1027.1 529.8L1027.5 527.8L1027.8 525.9L1028.1 523.9L1028.4 521.9L1028.8 519.9L1029.1 518L1029.4 516L1029.8 514L1030.1 512L1030.4 510.1L1030.7 508.1L1031.1 506.1L1031.4 504.2L1031.7 502.2L1032.1 500.2L1032.4 498.2L1032.7 496.3L1033.1 494.3L1033.4 492.3L1033.7 490.4L1034.1 488.4L1034.4 486.4L1034.7 484.4L1035.1 482.5L1035.4 480.5L1035.7 478.5L1036.1 476.6L1036.4 474.6L1036.8 472.6L1037.1 470.6L1037.5 468.7L1037.8 466.7L1038.1 464.7L1038.5 462.8L1038.8 460.8L1039.2 458.8L1039.5 456.8L1039.9 454.9L1040.2 452.9L1040.6 450.9L1040.9 449L1041.3 447L1041.6 445L1042 443.1L1042.3 441.1L1042.7 439.1L1043 437.2L1043.4 435.2L1043.7 433.2L1044.1 431.3L1044.5 429.3L1044.8 427.3L1045.2 425.4L1045.5 423.4L1045.9 421.4L1046.3 419.5L1046.6 417.5L1047 415.5L1047.4 413.6L1047.7 411.6L1048.1 409.6L1048.5 407.7L1048.8 405.7L1049.2 403.7L1049.6 401.8L1050 399.8L1050.3 397.8L1050.7 395.9L1051.1 393.9L1051.5 391.9L1051.8 390L1052.2 388L1052.6 386L1053 384.1L1053.4 382.1L1053.8 380.2L1054.1 378.2L1054.5 376.2L1054.9 374.3L1055.3 372.3L1055.7 370.3L1056.1 368.4L1056.5 366.4L1056.9 364.5L1057.3 362.5L1057.7 360.5L1058.1 358.6L1058.5 356.6L1058.9 354.7L1059.3 352.7L1059.7 350.7L1060.1 348.8L1060.5 346.8L1060.9 344.9L1061.3 342.9L1061.7 341L1062.1 339L1062.5 337L1062.9 335.1L1063.3 333.1L1063.8 331.2L1064.2 329.2L1064.6 327.3L1065 325.3L1065.4 323.4L1065.9 321.4L1066.3 319.4L1066.7 317.5L1067.2 315.5L1067.6 313.6L1068.1 311.6L1068.5 309.7L1069 307.7L1069.4 305.8L1069.9 303.8L1070.4 301.9L1070.8 300L1071.3 298L1071.8 296.1L1072.3 294.1L1072.8 292.2L1073.3 290.3L1073.8 288.3L1074.3 286.4L1074.8 284.5L1075.4 282.5L1075.9 280.6L1076.4 278.7L1077 276.8L1077.6 274.9L1078.1 272.9L1078.7 271L1079.3 269.1L1079.9 267.2L1080.5 265.3L1081.1 263.4L1081.7 261.5L1082.4 259.6L1083 257.7L1083.7 255.8L1084.4 253.9L1085 252L1085.7 250.2L1086.4 248.3L1087.1 246.4L1087.9 244.6L1088.6 242.7L1089.4 240.9L1090.1 239L1090.9 237.2L1091.7 235.3L1092.5 233.5L1093.3 231.7L1094.1 229.8L1095 228L1095.8 226.2L1096.7 224.4L1097.6 222.6L1098.5 220.8L1099.4 219.1L1100.3 217.3L1101.3 215.5L1102.2 213.8L1103.2 212L1104.2 210.3L1105.2 208.5L1106.2 206.8L1107.2 205.1L1108.3 203.4L1109.3 201.7L1110.4 200L1111.5 198.4L1112.6 196.7L1113.8 195.1L1114.9 193.4L1116.1 191.8L1117.2 190.2L1118.5 188.6L1119.8 187.1L1121.2 185.7L1122.8 184.4L1124.5 183.4L1126.4 182.7L1128.3 182.3L1130.3 182.2L1132.3 182.2L1134.3 182.5L1136.3 182.8L1138.2 183.3L1140.1 183.9L1142 184.5L1143.9 185.1L1145.8 185.8L1147.6 186.6L1149.4 187.5L1151.2 188.3L1153 189.3L1154.8 190.2L1156.5 191.3L1158.2 192.3L1159.8 193.4L1161.5 194.6L1163.1 195.8L1164.7 197L1166.2 198.2L1167.8 199.5L1169.3 200.8L1170.8 202.2L1172.2 203.5L1173.7 204.9L1175.1 206.3L1176.5 207.7L1177.9 209.2L1179.3 210.6L1180.6 212.1L1181.9 213.6L1183.2 215.1L1184.5 216.7L1185.8 218.2L1187.1 219.7L1188.3 221.3L1189.6 222.9L1190.8 224.4L1192 226L1193.2 227.6L1194.4 229.2L1195.6 230.8L1196.8 232.5L1198 234.1L1199.1 235.7L1200.2 237.4L1201.4 239L1202.5 240.7L1203.6 242.3L1204.7 244L1205.8 245.7L1206.8 247.4L1207.9 249.1L1208.9 250.8L1210 252.5L1211 254.2L1212 255.9L1213 257.7L1214 259.4L1215 261.2L1216 262.9L1216.9 264.7L1217.9 266.4L1218.8 268.2L1219.7 270L1220.6 271.7L1221.6 273.5L1222.5 275.3L1223.3 277.1L1224.2 278.9L1225.1 280.7L1225.9 282.5L1226.8 284.3L1227.6 286.1L1228.5 287.9L1229.3 289.8L1230.1 291.6L1230.9 293.4L1231.7 295.3L1232.5 297.1L1233.2 299L1234 300.8L1234.8 302.6L1235.5 304.5L1236.3 306.4L1237 308.2L1237.7 310.1L1238.4 311.9L1239.2 313.8L1239.9 315.7L1240.6 317.6L1241.3 319.4L1241.9 321.3L1242.6 323.2L1243.3 325.1L1244 327L1244.6 328.9L1245.3 330.7L1245.9 332.6L1246.6 334.5L1247.2 336.4L1247.8 338.3L1248.4 340.2L1249.1 342.1L1249.7 344L1250.3 345.9L1250.9 347.8L1251.5 349.8L1252.1 351.7L1252.7 353.6L1253.3 355.5L1253.8 357.4L1254.4 359.3L1255 361.2L1255.6 363.1L1256.1 365.1L1256.7 367L1257.3 368.9L1257.8 370.8L1258.4 372.7L1258.9 374.7L1259.5 376.6L1260 378.5L1260.6 380.4L1261.1 382.4L1261.7 384.3L1262.2 386.2L1262.7 388.1L1263.3 390.1L1263.8 392L1264.3 393.9L1264.9 395.8L1265.4 397.8L1265.9 399.7L1266.5 401.6L1267 403.6L1267.5 405.5L1268.1 407.4L1268.6 409.3L1269.1 411.3L1269.6 413.2L1270.2 415.1L1270.7 417.1L1271.2 419L1271.8 420.9L1272.3 422.8L1272.8 424.8L1273.4 426.7L1273.9 428.6L1274.4 430.6L1275 432.5L1275.5 434.4L1276 436.3L1276.6 438.3L1277.1 440.2L1277.7 442.1L1278.2 444L1278.8 446L1279.3 447.9L1279.9 449.8L1280.4 451.7L1281 453.7L1281.5 455.6L1282.1 457.5L1282.6 459.4L1283.2 461.3L1283.7 463.3L1284.3 465.2L1284.8 467.1L1285.4 469L1285.9 470.9L1286.5 472.9L1287.1 474.8L1287.6 476.7L1288.2 478.6L1288.8 480.5L1289.3 482.5L1289.9 484.4L1290.5 486.3L1291 488.2L1291.6 490.1L1292.2 492.1L1292.7 494L1293.3 495.9L1293.9 497.8L1294.4 499.7L1295 501.6L1295.6 503.6L1296.1 505.5L1296.7 507.4L1297.3 509.3L1297.9 511.2L1298.4 513.1L1299 515L1299.6 517L1300.2 518.9L1300.8 520.8L1301.3 522.7L1301.9 524.6L1302.5 526.5L1303.1 528.4L1303.7 530.4L1304.2 532.3L1304.8 534.2L1305.4 536.1L1306 538L1306.6 539.9L1307.1 541.8L1307.7 543.8L1308.3 545.7L1308.9 547.6L1309.5 549.5L1310.1 551.4L1310.7 553.3L1311.2 555.2L1311.8 557.1L1312.4 559.1L1313 561L1313.6 562.9L1314.2 564.8L1314.8 566.7L1315.3 568.6L1315.9 570.5L1316.5 572.4L1317.1 574.4L1317.7 576.3L1318.3 578.2L1318.9 580.1L1319.5 582L1320.1 583.9L1320.6 585.8L1321.2 587.7L1321.8 589.6L1322.4 591.6L1323 593.5L1323.6 595.4L1324.2 597.3L1324.8 599.2L1325.3 601.1L1325.9 603L1326.5 604.9L1327.1 606.8L1327.7 608.8L1328.3 610.7L1328.9 612.6L1329.5 614.5L1330.1 616.4L1330.6 618.3L1331.2 620.2L1331.8 622.1L1332.4 624.1L1333 626L1333.6 627.9L1334.2 629.8L1334.7 631.7L1335.3 633.6L1335.9 635.5L1336.5 637.4L1337.1 639.4L1337.7 641.3L1338.3 643.2L1338.8 645.1L1339.4 647L1340 648.9L1340.6 650.8L1341.2 652.7L1341.8 654.7L1342.3 656.6L1342.9 658.5L1343.5 660.4L1344.1 662.3L1344.7 664.2L1345.2 666.1L1345.8 668.1L1346.4 670L1347 671.9L1347.5 673.8L1348.1 675.7L1348.7 677.6L1349.3 679.5L1349.9 681.5L1350.4 683.4L1351 685.3L1351.6 687.2L1352.2 689.1L1352.7 691L1353.3 693L1353.9 694.9L1354.4 696.8L1355 698.7L1355.6 700.6L1356.2 702.5L1356.7 704.4L1357.3 706.4L1357.9 708.3L1358.5 710.2L1359 712.1L1359.6 714L1360.2 715.9L1360.7 717.9L1361.3 719.8L1361.9 721.7L1362.5 723.6L1363 725.5L1363.6 727.5L1364.2 729.4L1364.7 731.3L1365.3 733.2L1365.9 735.1L1366.4 737L1367 739L1367.6 740.9L1368.1 742.8L1368.7 744.7L1369.3 746.6L1369.9 748.5L1370.4 750.5L1371 752.4L1371.6 754.3L1372.1 756.2L1372.7 758.1L1373.3 760L1373.8 762L1374.4 763.9L1375 765.8L1375.5 767.7L1376.1 769.6L1376.7 771.6L1377.2 773.5L1377.8 775.4L1378.4 777.3L1378.9 779.2L1379.5 781.1L1380.1 783.1L1380.7 785L1381.2 786.9L1381.8 788.8L1382.4 790.7L1382.9 792.6L1383.5 794.6L1384.1 796.5L1384.6 798.4L1385.2 800.3L1385.8 802.2L1386.3 804.1L1386.9 806.1L1387.5 808L1388 809.9L1388.6 811.8L1389.2 813.7L1389.8 815.7L1390.3 817.6L1390.9 819.5L1391.5 821.4L1392 823.3L1392.6 825.2L1393.2 827.2L1393.8 829.1L1394.3 831L1394.9 832.9L1395.5 834.8L1396 836.7L1396.6 838.7L1397.2 840.6L1397.8 842.5L1398.3 844.4L1398.9 846.3L1399.5 848.2L1400.1 850.1L1400.6 852.1L1401.2 854L1401.8 855.9L1402.3 857.8L1402.9 859.7L1403.5 861.6L1404.1 863.6L1404.7 865.5L1405.2 867.4L1405.8 869.3L1406.4 871.2L1407 873.1L1407.5 875L1408.1 877L1408.7 878.9L1409.3 880.8L1409.9 882.7L1410.4 884.6L1411 886.5L1411.6 888.4L1412.2 890.4L1412.8 892.3L1413.3 894.2L1413.9 896.1L1414.5 898L1415.1 899.9L1415.7 901.8L1416.3 903.7L1416.9 905.7L1417.4 907.6L1418 909.5L1418.6 911.4L1419.2 913.3L1419.8 915.2L1420.4 917.1L1421 919L1421.6 921L1422.1 922.9L1422.7 924.8L1423.3 926.7L1423.9 928.6L1424.5 930.5L1425.1 932.4L1425.7 934.3L1426.3 936.2L1426.9 938.1L1427.5 940.1L1428.1 942L1428.7 943.9L1429.3 945.8L1429.9 947.7L1430.5 949.6L1431.1 951.5L1431.7 953.4L1432.3 955.3L1432.9 957.2L1433.5 959.1L1434.1 961L1434.7 963L1435.3 964.9L1435.9 966.8L1436.5 968.7L1437.1 970.6L1437.7 972.5L1438.3 974.4L1438.9 976.3L1439.5 978.2L1440.1 980.1L1440.7 982L1441.4 983.9L1442 985.8L1442.6 987.7L1443.2 989.6L1443.8 991.5L1444.4 993.4L1445 995.3L1445.7 997.2L1446.3 999.1L1446.9 1001L1447.5 1002.9L1448.1 1004.8L1448.8 1006.7L1449.4 1008.6L1450 1010.5L1450.6 1012.4L1451.3 1014.3L1451.9 1016.2L1452.5 1018.1L1453.1 1020L1453.8 1021.9L1454.4 1023.8L1455 1025.7L1455.7 1027.6L1456.3 1029.5L1456.9 1031.4L1457.6 1033.3L1458.2 1035.2L1458.8 1037.1L1459.5 1039L1460.1 1040.9L1460.7 1042.8L1461.4 1044.7L1462 1046.6L1462.7 1048.5L1463.3 1050.4L1463.9 1052.3L1464.6 1054.2L1465.2 1056.1L1465.9 1058L1466.5 1059.8L1467.2 1061.7L1467.8 1063.6L1468.5 1065.5L1469.1 1067.4L1469.8 1069.3L1470.5 1071.2L1471.1 1073.1L1471.8 1075L1472.4 1076.9L1473.1 1078.7L1473.8 1080.6L1474.4 1082.5L1475.1 1084.4L1475.7 1086.3L1476.4 1088.2L1477.1 1090.1L1477.8 1091.9L1478.4 1093.8L1479.1 1095.7L1479.8 1097.6L1480.4 1099.5L1481.1 1101.4L1481.8 1103.2L1482.5 1105.1L1483.2 1107L1483.9 1108.9L1484.5 1110.8L1485.2 1112.6L1485.9 1114.5L1486.6 1116.4L1487.3 1118.3L1488 1120.1L1488.7 1122L1489.4 1123.9L1490.1 1125.8L1490.8 1127.6L1491.5 1129.5L1492.2 1131.4L1492.9 1133.3L1493.6 1135.1L1494.3 1137L1495 1138.9L1495.7 1140.7L1496.4 1142.6L1497.1 1144.5L1497.8 1146.3L1498.6 1148.2L1499.3 1150.1L1500 1151.9L1500.7 1153.8L1501.5 1155.7L1502.2 1157.5L1502.9 1159.4L1503.6 1161.3L1504.4 1163.1L1505.1 1165L1505.8 1166.8L1506.6 1168.7L1507.3 1170.6L1508.1 1172.4L1508.8 1174.3L1509.6 1176.1L1510.3 1178L1511 1179.8L1511.8 1181.7L1512.6 1183.5L1513.3 1185.4L1514.1 1187.2L1514.8 1189.1L1515.6 1190.9L1516.4 1192.8L1517.1 1194.6L1517.9 1196.5L1518.7 1198.3L1519.4 1200.2L1520.2 1202L1521 1203.9L1521.8 1205.7L1522.5 1207.6L1523.3 1209.4L1524.1 1211.2L1524.9 1213.1L1525.7 1214.9L1526.5 1216.7L1527.3 1218.6L1528.1 1220.4L1528.9 1222.2L1529.7 1224.1L1530.5 1225.9L1531.3 1227.7L1532.1 1229.6L1532.9 1231.4L1533.7 1233.2L1534.5 1235.1L1535.3 1236.9L1536.2 1238.7L1537 1240.5L1537.8 1242.3L1538.6 1244.2L1539.5 1246L1540.3 1247.8L1541.1 1249.6L1542 1251.4L1542.8 1253.3L1543.7 1255.1L1544.5 1256.9L1545.4 1258.7L1546.2 1260.5L1547.1 1262.3L1547.9 1264.1L1548.8 1265.9L1549.6 1267.7L1550.5 1269.5L1551.4 1271.3L1552.2 1273.1L1553.1 1274.9L1554 1276.7L1554.8 1278.5L1555.7 1280.3L1556.6 1282.1L1557.5 1283.9L1558.4 1285.7L1559.3 1287.5L1560.2 1289.3L1561.1 1291.1L1562 1292.9L1562.9 1294.7L1563.8 1296.4L1564.7 1298.2L1565.6 1300L1566.5 1301.8L1567.4 1303.6L1568.3 1305.3L1569.2 1307.1L1570.2 1308.9L1571.1 1310.7L1572 1312.4L1572.9 1314.2L1573.9 1316L1574.8 1317.7L1575.8 1319.5L1576.7 1321.3L1577.6 1323L1578.6 1324.8L1579.5 1326.6L1580.5 1328.3L1581.5 1330.1L1582.4 1331.8L1583.4 1333.6L1584.4 1335.3L1585.3 1337.1L1586.3 1338.8L1587.3 1340.6L1588.3 1342.3L1589.2 1344.1L1590.2 1345.8L1591.2 1347.5L1592.2 1349.3L1593.2 1351L1594.2 1352.7L1595.2 1354.5L1596.2 1356.2L1597.2 1357.9L1598.2 1359.7L1599.2 1361.4L1600.2 1363.1L1601.3 1364.8L1602.3 1366.5L1603.3 1368.3L1604.3 1370L1605.4 1371.7L1606.4 1373.4L1607.4 1375.1L1608.5 1376.8L1609.5 1378.5L1610.6 1380.2L1611.6 1381.9L1612.7 1383.6L1613.7 1385.3L1614.8 1387L1615.9 1388.7L1616.9 1390.4L1618 1392.1L1619.1 1393.8L1620.2 1395.5L1621.2 1397.1L1622.3 1398.8L1623.4 1400.5L1624.5 1402.2L1625.6 1403.9L1626.7 1405.5L1627.8 1407.2L1628.9 1408.9L1630 1410.5L1631.1 1412.2L1632.2 1413.8L1633.4 1415.5L1634.5 1417.2L1635.6 1418.8L1636.7 1420.5L1637.9 1422.1L1639 1423.7L1640.2 1425.4L1641.3 1427L1642.5 1428.7L1643.6 1430.3L1644.8 1431.9L1645.9 1433.6L1647.1 1435.2L1648.3 1436.8L1649.4 1438.4L1650.6 1440L1651.8 1441.6L1653 1443.3L1654.2 1444.9L1655.4 1446.5L1656.6 1448.1L1657.8 1449.7L1659 1451.2L1660.2 1452.8L1661.4 1454.4L1662.7 1456L1663.9 1457.6L1665.1 1459.2L1666.4 1460.7L1667.6 1462.3L1668.8 1463.9L1670.1 1465.4L1671.4 1467L1672.6 1468.5L1673.9 1470.1L1675.1 1471.6L1676.4 1473.2L1677.7 1474.7L1679 1476.2L1680.3 1477.8L1681.6 1479.3L1682.9 1480.8L1684.2 1482.3L1685.5 1483.8L1686.8 1485.3L1688.1 1486.8L1689.4 1488.3L1690.8 1489.8L1692.1 1491.3L1693.5 1492.8L1694.8 1494.3L1696.2 1495.8L1697.5 1497.2L1698.9 1498.7L1700.2 1500.2L1701.6 1501.6L1703 1503.1L1704.4 1504.5L1705.8 1505.9L1707.2 1507.4L1708.6 1508.8L1710 1510.2L1711.4 1511.6L1712.8 1513.1L1714.2 1514.5L1715.6 1515.9L1717.1 1517.3L1718.5 1518.6L1720 1520L1721.4 1521.4L1722.9 1522.8L1724.3 1524.1L1725.8 1525.5L1727.3 1526.9L1728.7 1528.2L1730.2 1529.5L1731.7 1530.9L1733.2 1532.2L1734.7 1533.5L1736.2 1534.8L1737.7 1536.2L1739.3 1537.5L1740.8 1538.7L1742.3 1540L1743.8 1541.3L1745.4 1542.6L1746.9 1543.9L1748.5 1545.1L1750 1546.4L1751.6 1547.6L1753.2 1548.8L1754.8 1550.1L1756.3 1551.3L1757.9 1552.5L1759.5 1553.7L1761.1 1554.9L1762.7 1556.1L1764.3 1557.3L1766 1558.5L1767.6 1559.6L1769.2 1560.8L1770.8 1562L1772.5 1563.1L1774.1 1564.2L1775.8 1565.4L1777.4 1566.5L1779.1 1567.6L1780.8 1568.7L1782.5 1569.8L1784.1 1570.9L1785.8 1571.9L1787.5 1573L1789.2 1574.1L1790.9 1575.1L1792.6 1576.2L1794.3 1577.2L1796 1578.2L1797.8 1579.2L1799.5 1580.2L1801.2 1581.2L1803 1582.2L1804.7 1583.2L1806.5 1584.2L1808.2 1585.1L1810 1586.1L1811.8 1587L1813.5 1587.9L1815.3 1588.8L1817.1 1589.7L1818.9 1590.6L1820.7 1591.5L1822.5 1592.4L1824.3 1593.3L1826.1 1594.1L1827.9 1595L1829.7 1595.8L1831.5 1596.6L1833.4 1597.5L1835.2 1598.3L1837 1599.1L1838.9 1599.9L1840.7 1600.6L1842.5 1601.4L1844.4 1602.2L1846.3 1602.9L1848.1 1603.6L1850 1604.4L1851.9 1605.1L1853.7 1605.8L1855.6 1606.5L1857.5 1607.1L1859.4 1607.8L1861.3 1608.5L1863.1 1609.1L1864.6 1609.6" stroke="#000000" stroke-linecap="round" stroke-linejoin="round"/>
</g>
<filter id="ct" filterUnits="objectBoundingBox" x="-0.04" y="-0.04" width="1.08" height="1.08" color-interpolation-filters="sRGB">
<feMorphology in="SourceAlpha" operator="erode" radius="0.7" result="er"/>
<feGaussianBlur in="er" stdDeviation="0.9" result="sa"/>
<feOffset in="sa" dx="3.0" result="oR"/>
<feOffset in="sa" dx="-3.0" result="oB"/>
<feColorMatrix in="oR" type="matrix" values="0 0 0 -1 1  0 0 0 0 1  0 0 0 0 1  0 0 0 0 1" result="r"/>
<feColorMatrix in="sa" type="matrix" values="0 0 0 0 1  0 0 0 -1 1  0 0 0 0 1  0 0 0 0 1" result="g"/>
<feColorMatrix in="oB" type="matrix" values="0 0 0 0 1  0 0 0 0 1  0 0 0 -1 1  0 0 0 0 1" result="b"/>
<feBlend in="r" in2="g" mode="multiply" result="rg"/>
<feBlend in="rg" in2="b" mode="multiply" result="ct"/>
<feColorMatrix in="sa" type="matrix" values="0 0 0 -1 1  0 0 0 -1 1  0 0 0 -1 1  0 0 0 0 1" result="gray"/>
<feComposite in="ct" in2="gray" operator="arithmetic" k2="0.7" k3="0.30"/>
</filter>
<clipPath id="no1base"><rect x="120" y="100" width="200" height="98.6"/><rect x="180.8" y="198" width="9.8" height="20"/><rect x="210" y="198" width="110" height="20"/></clipPath>
<g filter="url(#ct)">
<text x="296.3" y="1716.3" font-size="101" text-anchor="end">0.0</text><text x="296.3" y="1414.4" font-size="101" text-anchor="end">0.2</text><text x="296.3" y="1112.5" font-size="101" text-anchor="end">0.4</text><text x="296.3" y="810.5" font-size="101" text-anchor="end">0.6</text><text x="296.3" y="508.6" font-size="101" text-anchor="end">0.8</text><text x="296.3" y="206.7" font-size="101" text-anchor="end" clip-path="url(#no1base)">1.0</text>
</g>
<g filter="url(#ct)">
<text x="400.5" y="1818.8" font-size="101.5" text-anchor="middle">350</text><text x="693.9" y="1818.8" font-size="101.5" text-anchor="middle">400</text><text x="983.3" y="1818.8" font-size="101.5" text-anchor="middle">450</text><text x="1277" y="1818.8" font-size="101.5" text-anchor="middle">500</text><text x="1570.2" y="1818.8" font-size="101.5" text-anchor="middle">550</text><text x="1863.8" y="1818.8" font-size="101.5" text-anchor="middle">600</text>
</g>
<g filter="url(#ct)"><text x="1103" y="1975.5" font-size="100.5" text-anchor="middle" letter-spacing="-0.62">Wavelength (nm)</text></g>
<g filter="url(#ct)"><text transform="translate(91.5 841.8) rotate(-90)" font-size="100.5" text-anchor="middle" letter-spacing="-1.15">Absorbance &amp; Fluorescence</text></g>
<g filter="url(#ct)"><text x="557" y="612.5" font-size="71.5" font-weight="bold" letter-spacing="0">ABS</text></g>
<g filter="url(#ct)"><text x="1342.5" y="451.8" font-size="70" font-weight="bold" letter-spacing="0.6">FLSC</text></g>
</svg>
</body></html>
